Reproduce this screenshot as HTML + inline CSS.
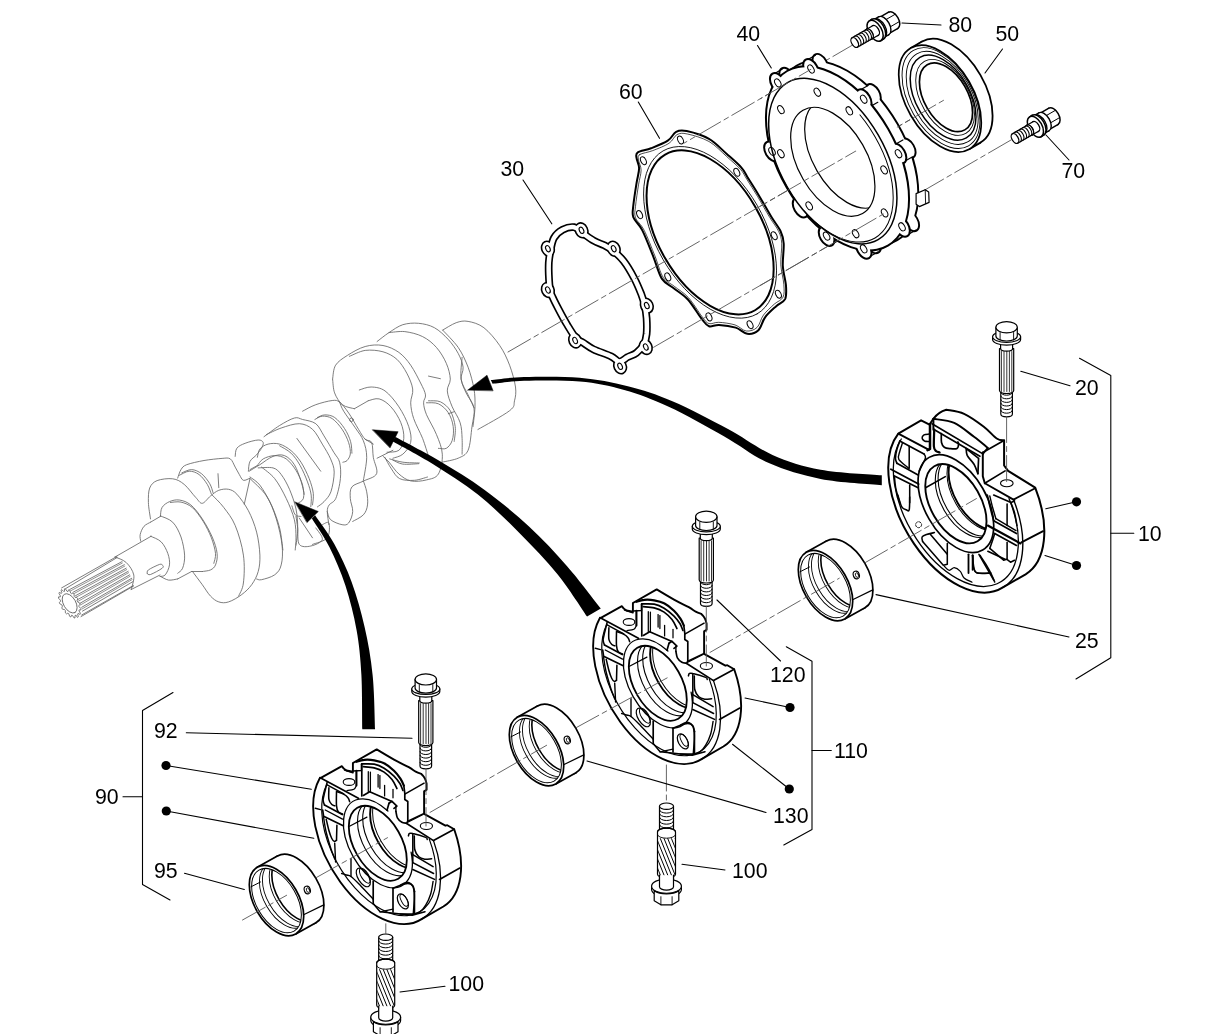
<!DOCTYPE html>
<html><head><meta charset="utf-8"><title>Crankshaft bearing parts diagram</title>
<style>
html,body{margin:0;padding:0;background:#fff;}
body{width:1214px;height:1034px;overflow:hidden;font-family:"Liberation Sans",sans-serif;}
svg{display:block;filter:grayscale(1);}
svg text{font-family:"Liberation Sans",sans-serif;font-size:21.3px;fill:#000;}
</style></head><body>
<svg width="1214" height="1034" viewBox="0 0 1214 1034" stroke-linecap="round" stroke-linejoin="round">
<rect width="1214" height="1034" fill="#fff"/>
<path d="M61.6,587.9 L116.6,556.6" fill="none" stroke="#666" stroke-width="0.85" />
<path d="M81.0,616.6 L133.6,586.0" fill="none" stroke="#666" stroke-width="0.85" />
<path d="M65.5,588.7 L117.3,557.4" fill="none" stroke="#666" stroke-width="0.85" />
<path d="M69.7,589.5 L122.0,561.6" fill="none" stroke="#666" stroke-width="0.85" />
<path d="M70.4,591.0 L122.4,563.0" fill="none" stroke="#666" stroke-width="0.7" />
<path d="M73.2,592.2 L124.3,564.7" fill="none" stroke="#666" stroke-width="0.85" />
<path d="M73.8,593.7 L124.8,566.1" fill="none" stroke="#666" stroke-width="0.7" />
<path d="M75.5,595.7 L126.2,568.2" fill="none" stroke="#666" stroke-width="0.85" />
<path d="M76.2,597.2 L126.7,569.6" fill="none" stroke="#666" stroke-width="0.7" />
<path d="M77.9,599.5 L128.2,571.3" fill="none" stroke="#666" stroke-width="0.85" />
<path d="M78.5,601.1 L128.6,572.7" fill="none" stroke="#666" stroke-width="0.7" />
<path d="M79.8,603.4 L129.7,574.8" fill="none" stroke="#666" stroke-width="0.85" />
<path d="M80.4,605.0 L130.2,576.2" fill="none" stroke="#666" stroke-width="0.7" />
<path d="M81.7,607.3 L131.7,578.3" fill="none" stroke="#666" stroke-width="0.85" />
<path d="M82.4,608.8 L132.1,579.6" fill="none" stroke="#666" stroke-width="0.7" />
<path d="M82.5,611.1 L132.8,581.7" fill="none" stroke="#666" stroke-width="0.85" />
<path d="M81.7,615.0 L133.2,585.6" fill="none" stroke="#666" stroke-width="0.85" />
<path d="M77.7,617.2 L78.4,616.7 L77.6,614.0 L78.1,613.4 L80.1,614.4 L80.5,613.4 L79.0,610.9 L79.2,609.9 L81.0,609.9 L80.9,608.6 L79.0,606.6 L78.8,605.5 L80.1,604.4 L79.7,603.0 L77.6,601.9 L77.1,600.7 L77.7,598.8 L76.9,597.5 L75.0,597.3 L74.2,596.3 L74.0,593.9 L73.0,592.9 L71.6,593.7 L70.7,593.1 L69.7,590.4 L68.6,589.8 L67.9,591.6 L67.0,591.3 L65.4,588.9 L64.4,588.9 L64.5,591.3 L63.7,591.5 L61.8,589.6 L61.0,590.2 L61.9,592.8 L61.4,593.4 L59.3,592.4 L59.0,593.4 L60.4,595.9 L60.3,596.9 L58.5,596.9 L58.5,598.2 L60.4,600.2 L60.7,601.3 L59.3,602.4 L59.8,603.8 L61.9,604.9 L62.4,606.1 L61.8,608.0 L62.6,609.3 L64.5,609.5 L65.3,610.5 L65.4,612.9 L66.5,613.9 L67.9,613.1 L68.8,613.8 L69.7,616.4 L70.8,617.0 L71.6,615.2 L72.5,615.5 L74.0,617.9 L75.0,617.9 L75.0,615.5 L75.7,615.3 Z" fill="#fff" stroke="#666" stroke-width="0.85" />
<ellipse cx="69.7" cy="603.4" rx="10.6" ry="6.1" transform="rotate(60 69.7 603.4)" fill="none" stroke="#666" stroke-width="0.85" />
<path d="M115.0,557.0 C116.9,557.9 123.1,559.5 126.2,562.5 C129.4,565.5 132.9,570.5 133.8,575.0 C134.6,579.5 131.7,587.1 131.2,589.5" fill="none" stroke="#666" stroke-width="0.85" />
<path d="M115.0,557.0 L151.2,536.2" fill="none" stroke="#666" stroke-width="0.85" />
<path d="M131.2,589.5 L160.0,575.0" fill="none" stroke="#666" stroke-width="0.85" />
<path d="M150.5,536.2 C152.3,537.1 158.4,539.0 161.2,541.9 C164.1,544.8 166.4,549.6 167.8,553.4 C169.2,557.3 169.9,561.4 169.5,564.9 C169.0,568.5 166.9,572.9 165.3,574.8 C163.8,576.7 160.8,576.2 159.9,576.4" fill="none" stroke="#666" stroke-width="0.85" />
<path d="M147.3,573.5 C147.5,572.9 146.4,571.4 148.4,569.9 C150.5,568.4 157.2,565.2 159.6,564.4 C161.9,563.7 162.1,564.6 162.5,565.3 C163.0,565.9 164.2,566.7 162.2,568.2 C160.2,569.8 153.0,573.6 150.5,574.5 C148.1,575.3 147.8,573.7 147.3,573.5" fill="none" stroke="#666" stroke-width="0.85" />
<path d="M150.5,522.2 C149.5,522.9 145.7,524.3 144.0,526.3 C142.2,528.4 140.7,532.1 140.2,534.5 C139.6,537.0 140.6,540.0 140.7,541.1" fill="none" stroke="#666" stroke-width="0.85" />
<path d="M160.4,576.4 C161.8,577.0 165.8,579.7 168.6,580.1 C171.5,580.5 176.2,579.1 177.7,578.9" fill="none" stroke="#666" stroke-width="0.85" />
<path d="M150.5,522.2 L160.4,516.4" fill="none" stroke="#666" stroke-width="0.85" />
<path d="M177.7,578.9 L191.6,571.5" fill="none" stroke="#666" stroke-width="0.85" />
<path d="M160.4,515.9 C162.5,517.0 169.3,518.7 172.7,522.2 C176.2,525.7 179.0,531.5 181.0,537.0 C182.9,542.5 184.3,549.9 184.6,555.1 C184.9,560.3 183.8,565.2 182.6,568.2 C181.5,571.2 178.5,572.3 177.7,573.2" fill="none" stroke="#666" stroke-width="0.85" />
<path d="M160.4,516.4 C160.7,514.9 160.5,509.9 162.1,507.4 C163.6,504.9 166.6,502.9 169.5,501.6 C172.3,500.4 175.8,499.5 179.3,500.0 C182.9,500.6 187.0,501.8 190.8,504.9 C194.7,508.1 198.8,513.6 202.3,518.9 C205.9,524.3 209.7,531.2 212.2,537.0 C214.7,542.7 216.6,548.8 217.1,553.4 C217.7,558.1 216.6,562.2 215.5,564.9 C214.4,567.7 212.7,568.8 210.6,569.9 C208.4,571.0 203.7,571.2 202.3,571.5" fill="none" stroke="#666" stroke-width="0.85" />
<path d="M170.3,502.5 C172.1,502.4 177.3,501.3 181.0,502.1 C184.7,503.0 188.8,504.5 192.5,507.7 C196.2,510.9 200.0,516.4 203.2,521.4 C206.3,526.4 209.3,532.5 211.4,537.8 C213.4,543.2 215.1,549.2 215.5,553.4 C215.9,557.7 214.1,561.7 213.8,563.3" fill="none" stroke="#666" stroke-width="0.85" />
<path d="M191.6,571.5 L202.3,571.5" fill="none" stroke="#666" stroke-width="0.85" />
<path d="M150.5,518.9 C150.2,516.2 148.5,507.6 148.4,502.5 C148.3,497.3 148.3,491.6 149.7,488.0 C151.2,484.4 153.3,482.1 157.1,480.6 C161.0,479.1 168.2,478.2 172.7,478.8 C177.3,479.4 180.4,481.3 184.2,484.4 C188.1,487.5 192.7,494.4 195.8,497.5 C198.8,500.7 199.9,503.6 202.3,503.3 C204.8,503.0 207.8,498.1 210.6,495.9 C213.3,493.7 215.8,491.4 218.8,490.3 C221.8,489.2 225.6,488.7 228.6,489.3 C231.6,490.0 233.6,490.7 236.9,494.2 C240.1,497.8 245.1,504.4 248.4,510.7 C251.7,517.0 254.7,524.7 256.6,532.1 C258.5,539.5 259.6,548.5 259.9,555.1 C260.1,561.7 259.6,566.6 258.2,571.5 C256.9,576.4 254.4,580.8 251.7,584.7 C248.9,588.5 245.6,591.7 241.8,594.5 C238.0,597.4 232.5,600.7 228.6,601.9 C224.8,603.2 221.8,602.9 218.8,601.9 C215.8,601.0 213.3,599.0 210.6,596.2 C207.8,593.3 205.3,588.8 202.3,584.7 C199.3,580.6 194.1,573.7 192.5,571.5" fill="none" stroke="#666" stroke-width="0.85" />
<path d="M212.2,495.1 C214.1,497.1 219.9,502.3 223.7,507.4 C227.5,512.5 231.9,517.5 235.2,525.5 C238.5,533.4 242.1,545.5 243.4,555.1 C244.8,564.7 244.3,576.2 243.4,583.0 C242.6,589.9 239.3,594.0 238.5,596.2" fill="none" stroke="#666" stroke-width="0.85" />
<path d="M177.7,478.1 C178.2,476.7 179.5,471.8 181.0,469.6 C182.5,467.3 182.9,466.2 186.7,464.7 C190.6,463.2 198.1,461.6 204.0,460.5 C209.9,459.5 217.7,458.7 222.1,458.4 C226.4,458.1 228.1,457.5 230.3,458.9 C232.5,460.4 233.7,464.5 235.2,467.1 C236.7,469.7 238.0,472.3 239.3,474.5 C240.7,476.7 241.6,479.7 243.4,480.3 C245.2,480.9 248.9,478.5 250.0,478.1" fill="none" stroke="#666" stroke-width="0.85" />
<path d="M179.3,475.3 C181.0,474.7 185.9,471.4 189.2,471.2 C192.5,471.1 196.0,472.3 199.0,474.5 C202.1,476.7 205.2,481.1 207.3,484.4 C209.3,487.7 210.7,492.6 211.4,494.2" fill="none" stroke="#666" stroke-width="0.85" />
<path d="M181.8,472.9 C183.4,472.3 188.4,469.5 191.6,469.6 C194.9,469.7 198.5,471.4 201.5,473.7 C204.5,476.0 207.8,480.4 209.7,483.6 C211.6,486.7 212.5,491.1 213.0,492.6" fill="none" stroke="#666" stroke-width="0.85" />
<path d="M218.0,473.7 L218.8,487.7" fill="none" stroke="#666" stroke-width="0.85" />
<path d="M250.0,478.6 L244.3,504.1" fill="none" stroke="#666" stroke-width="0.85" />
<path d="M250.0,478.6 C252.7,481.5 262.1,489.2 266.4,495.9 C270.8,502.6 273.7,510.7 276.3,518.9 C278.9,527.1 281.2,537.5 282.1,545.2 C282.9,552.9 282.5,560.0 281.2,564.9 C280.0,569.9 278.0,572.3 274.7,574.8 C271.4,577.3 264.5,579.0 261.5,579.7 C258.5,580.4 257.4,579.0 256.6,578.9" fill="none" stroke="#666" stroke-width="0.85" />
<path d="M235.2,456.4 C235.5,455.1 235.2,450.4 236.9,448.2 C238.5,446.0 241.5,444.7 245.1,443.3 C248.6,441.9 255.2,440.1 258.2,440.0 C261.2,439.9 262.6,441.1 263.2,442.5 C263.7,443.8 262.6,446.2 261.5,448.2 C260.4,450.3 258.5,452.6 256.6,454.8 C254.7,457.0 251.4,458.6 250.0,461.4 C248.6,464.1 248.6,469.6 248.4,471.2" fill="none" stroke="#666" stroke-width="0.85" />
<path d="M249.2,471.2 C251.0,470.1 255.9,467.1 259.9,464.7 C263.8,462.2 268.9,457.9 273.0,456.4 C277.1,454.9 281.0,454.2 284.5,455.6 C288.1,457.0 291.7,460.4 294.4,464.7 C297.1,468.9 299.3,476.2 301.0,481.1 C302.6,486.0 303.7,492.1 304.3,494.2" fill="none" stroke="#666" stroke-width="0.85" />
<path d="M258.2,467.9 C260.7,467.9 269.2,466.9 273.0,467.9 C276.9,469.0 278.5,471.0 281.2,474.5 C284.0,478.1 287.0,483.6 289.5,489.3 C291.9,495.1 294.7,502.5 296.0,509.0 C297.4,515.6 297.7,522.7 297.7,528.8 C297.7,534.8 296.3,542.5 296.0,545.2" fill="none" stroke="#666" stroke-width="0.85" />
<path d="M264.0,436.7 C266.6,434.9 274.5,428.7 279.6,425.5 C284.7,422.4 290.6,419.0 294.4,418.0 C298.2,417.0 299.0,418.5 302.6,419.5 C306.2,420.4 312.2,421.0 315.8,423.7 C319.3,426.5 321.0,431.1 324.0,435.9 C327.0,440.7 331.2,447.9 333.8,452.3 C336.4,456.7 338.5,457.8 339.6,462.2 C340.7,466.6 341.0,472.6 340.4,478.6 C339.8,484.7 337.7,494.0 335.8,498.4 C333.9,502.7 330.7,502.7 329.2,504.9 C327.8,507.1 327.3,508.2 327.3,511.5 C327.2,514.8 328.6,522.5 328.9,524.7" fill="none" stroke="#666" stroke-width="0.85" />
<path d="M266.4,434.6 C268.9,433.5 275.8,429.8 281.2,428.0 C286.7,426.2 294.1,423.5 299.3,423.7 C304.5,423.9 308.6,425.9 312.5,429.3 C316.3,432.7 319.3,439.2 322.3,444.1 C325.3,449.0 328.6,454.3 330.6,458.9 C332.5,463.6 334.1,466.6 334.2,472.1 C334.2,477.5 332.6,486.9 330.9,491.8 C329.2,496.7 326.2,499.1 324.0,501.7 C321.7,504.2 318.5,506.0 317.4,506.9" fill="none" stroke="#666" stroke-width="0.85" />
<path d="M257.4,457.3 C257.8,455.9 258.1,451.2 259.9,449.0 C261.6,446.9 264.8,444.9 268.1,444.1 C271.4,443.3 275.8,443.0 279.6,444.1 C283.4,445.2 287.5,447.7 291.1,450.7 C294.7,453.7 297.9,457.5 301.0,462.2 C304.0,466.9 307.1,473.4 309.2,478.6 C311.2,483.8 312.7,489.0 313.3,493.4 C313.8,497.8 312.6,503.0 312.5,504.9" fill="none" stroke="#666" stroke-width="0.85" />
<path d="M279.6,445.8 C281.5,447.0 287.7,449.9 291.1,453.2 C294.5,456.4 297.4,460.7 300.1,465.5 C302.9,470.3 305.7,477.0 307.5,481.9 C309.4,486.9 310.6,491.0 311.2,495.1 C311.7,499.2 310.9,504.7 310.8,506.6" fill="none" stroke="#666" stroke-width="0.85" />
<path d="M257.4,465.5 C258.4,464.4 260.3,460.6 263.2,458.9 C266.0,457.3 270.8,455.6 274.7,455.6 C278.5,455.6 282.6,456.4 286.2,458.9 C289.7,461.4 293.3,466.0 296.0,470.4 C298.8,474.8 301.4,480.6 302.6,485.2 C303.8,489.9 304.2,495.3 303.4,498.4 C302.6,501.4 298.6,502.5 297.7,503.3" fill="none" stroke="#666" stroke-width="0.85" />
<path d="M250.0,469.6 L257.4,465.5" fill="none" stroke="#666" stroke-width="0.85" />
<path d="M296.9,438.4 L320.7,471.2" fill="none" stroke="#666" stroke-width="0.85" />
<path d="M250.0,477.0 C251.6,478.4 256.3,480.6 259.9,485.2 C263.4,489.9 268.1,497.8 271.4,504.9 C274.7,512.1 277.7,520.4 279.6,528.0 C281.5,535.5 282.3,546.3 282.9,550.0" fill="none" stroke="#666" stroke-width="0.85" />
<path d="M261.5,467.1 C263.7,469.0 270.5,473.4 274.7,478.6 C278.8,483.8 282.9,491.5 286.2,498.4 C289.5,505.2 292.7,513.2 294.4,519.7 C296.0,526.3 295.9,532.8 296.0,537.8 C296.2,542.9 295.3,548.0 295.2,550.0" fill="none" stroke="#666" stroke-width="0.85" />
<path d="M291.9,505.8 C292.5,507.3 293.7,513.0 295.2,514.8 C296.7,516.6 300.0,516.2 301.0,516.4" fill="none" stroke="#666" stroke-width="0.85" />
<path d="M296.0,516.4 C296.3,518.4 297.1,523.3 297.7,528.0 C298.2,532.6 297.1,541.4 299.3,544.4 C301.5,547.4 307.0,546.9 310.8,546.0 C314.7,545.2 321.5,542.5 322.3,539.5 C323.2,536.4 316.9,529.9 315.8,528.0" fill="none" stroke="#666" stroke-width="0.85" />
<path d="M299.3,518.1 L312.5,537.8" fill="none" stroke="#666" stroke-width="0.85" />
<path d="M322.3,524.7 C323.4,524.4 328.1,520.8 328.9,523.0 C329.7,525.2 330.0,534.3 327.3,537.8 C324.5,541.4 314.9,543.3 312.5,544.4" fill="none" stroke="#666" stroke-width="0.85" />
<path d="M314.9,419.5 C316.2,418.9 319.5,416.3 322.3,416.2 C325.2,416.0 328.9,416.4 332.2,418.6 C335.5,420.8 339.3,425.3 342.1,429.3 C344.8,433.3 347.3,438.4 348.6,442.5 C350.0,446.6 350.6,451.0 350.3,454.0 C350.0,457.0 348.2,459.2 347.0,460.6 C345.8,461.9 343.6,461.9 342.9,462.2" fill="none" stroke="#666" stroke-width="0.85" />
<path d="M317.4,417.5 C318.6,417.0 321.9,414.9 324.8,414.9 C327.7,414.9 331.4,415.2 334.7,417.5 C338.0,419.8 341.9,424.5 344.5,428.5 C347.2,432.5 349.4,437.5 350.6,441.6 C351.8,445.8 351.7,451.2 351.9,453.2" fill="none" stroke="#666" stroke-width="0.85" />
<path d="M302.6,411.2 C304.8,410.1 310.8,406.4 315.8,404.7 C320.7,402.9 328.2,401.0 332.2,400.5 C336.2,400.1 336.9,400.1 339.6,402.2 C342.3,404.2 345.5,408.4 348.6,412.9 C351.8,417.4 355.8,424.9 358.5,429.3 C361.2,433.7 362.9,437.0 365.1,439.2 C367.3,441.4 370.3,439.5 371.7,442.5 C373.0,445.5 372.5,452.1 373.3,457.3 C374.1,462.5 378.2,469.7 376.6,473.7 C374.9,477.7 367.5,478.9 363.4,481.1 C359.3,483.3 354.1,484.0 351.9,486.9 C349.7,489.7 350.1,494.3 350.3,498.4 C350.4,502.5 353.0,507.4 352.7,511.5 C352.5,515.6 350.4,520.8 348.6,523.0 C346.9,525.2 345.1,525.2 342.1,524.7 C339.0,524.1 333.0,521.9 330.6,519.7 C328.1,517.5 327.8,512.9 327.3,511.5" fill="none" stroke="#666" stroke-width="0.85" />
<path d="M339.6,402.2 C340.3,403.7 341.1,407.0 343.7,411.2 C346.3,415.5 351.9,422.7 355.2,427.7 C358.5,432.6 361.5,435.9 363.4,440.8 C365.3,445.8 366.7,450.7 366.7,457.3 C366.7,463.8 364.0,476.4 363.4,480.3" fill="none" stroke="#666" stroke-width="0.85" />
<path d="M365.1,439.2 L373.3,444.1" fill="none" stroke="#666" stroke-width="0.85" />
<path d="M363.4,481.1 C364.0,482.9 366.0,487.8 366.7,491.8 C367.4,495.8 368.1,501.1 367.5,504.9 C367.0,508.8 365.9,512.1 363.4,514.8 C361.0,517.5 354.5,520.3 352.7,521.4" fill="none" stroke="#666" stroke-width="0.85" />
<circle cx="351.4" cy="419.8" r="1.8" fill="none" stroke="#666" stroke-width="0.85"/>
<path d="M384.8,457.3 C385.9,459.2 388.9,465.2 391.4,468.8 C393.8,472.3 395.8,476.7 399.6,478.6 C403.4,480.6 409.7,480.6 414.4,480.3 C419.1,480.0 425.4,477.5 427.5,477.0" fill="none" stroke="#666" stroke-width="0.85" />
<path d="M389.7,458.9 C391.9,459.5 398.0,461.5 402.9,462.2 C407.8,462.9 416.6,462.9 419.3,463.0" fill="none" stroke="#666" stroke-width="0.85" />
<path d="M442.7,330.1 C445.0,328.8 452.0,324.2 456.2,322.7 C460.4,321.3 463.4,320.5 468.1,321.4 C472.7,322.2 478.6,323.7 483.9,327.7 C489.1,331.7 495.4,339.2 499.7,345.5 C504.0,351.7 506.9,358.3 509.6,365.2 C512.2,372.2 514.7,381.1 515.5,387.0 C516.3,392.9 515.5,396.9 514.5,400.8 C513.5,404.8 515.7,405.9 509.6,410.7 C503.5,415.5 483.2,426.4 477.9,429.5" fill="none" stroke="#666" stroke-width="0.85" />
<path d="M442.7,330.1 C445.3,333.0 453.9,341.3 458.2,347.4 C462.4,353.6 465.4,360.3 468.1,367.2 C470.7,374.1 472.8,382.4 474.0,389.0 C475.1,395.6 475.1,400.5 475.0,406.8 C474.8,413.0 473.3,423.2 473.0,426.5" fill="none" stroke="#666" stroke-width="0.85" />
<path d="M462.1,357.3 C462.0,361.0 460.1,372.8 461.1,379.1 C462.1,385.3 465.9,390.1 468.1,394.9 C470.2,399.7 473.0,405.6 474.0,407.8" fill="none" stroke="#666" stroke-width="0.85" />
<path d="M332.6,379.1 C333.1,376.8 333.1,369.2 335.6,365.2 C338.1,361.3 342.5,358.5 347.4,355.4 C352.4,352.2 359.3,348.1 365.2,346.5 C371.2,344.8 377.4,344.5 383.0,345.5 C388.6,346.5 394.2,349.1 398.9,352.4 C403.5,355.7 407.1,360.1 410.7,365.2 C414.3,370.4 418.1,378.1 420.6,383.0 C423.1,388.0 425.0,391.6 425.5,394.9 C426.0,398.2 423.4,399.5 423.6,402.8 C423.7,406.1 424.4,409.4 426.5,414.7 C428.7,419.9 433.8,427.9 436.4,434.4 C439.1,441.0 442.0,447.6 442.3,454.2 C442.7,460.8 441.0,469.7 438.4,474.0 C435.8,478.3 431.1,478.8 426.5,479.9 C421.9,481.1 415.3,481.9 410.7,480.9 C406.1,479.9 402.5,477.1 398.9,474.0 C395.2,470.9 391.6,465.1 389.0,462.1 C386.3,459.2 384.0,457.2 383.0,456.2" fill="none" stroke="#666" stroke-width="0.85" />
<path d="M332.6,379.1 C333.0,381.4 333.0,388.6 334.6,392.9 C336.2,397.2 339.2,402.1 342.5,404.8 C345.8,407.4 352.4,408.1 354.4,408.7" fill="none" stroke="#666" stroke-width="0.85" />
<path d="M349.4,356.3 C352.1,355.4 359.6,351.2 365.2,350.4 C370.8,349.7 377.8,350.3 383.0,351.8 C388.3,353.3 392.9,355.8 396.9,359.3 C400.8,362.9 404.1,368.2 406.8,373.2 C409.4,378.1 412.0,384.0 412.7,389.0 C413.4,393.9 410.6,397.9 410.7,402.8 C410.9,407.8 411.7,412.7 413.7,418.6 C415.7,424.6 420.1,432.1 422.6,438.4 C425.0,444.7 427.5,453.2 428.5,456.2" fill="none" stroke="#666" stroke-width="0.85" />
<path d="M377.1,341.5 C379.1,340.0 384.7,335.4 389.0,332.6 C393.3,329.8 397.9,326.3 402.8,324.7 C407.8,323.2 413.4,322.8 418.6,323.3 C423.9,323.8 429.5,325.0 434.4,327.7 C439.4,330.4 444.3,335.3 448.3,339.5 C452.2,343.8 455.7,348.8 458.2,353.4 C460.6,358.0 462.6,362.9 463.1,367.2 C463.6,371.5 460.6,374.8 461.1,379.1 C461.6,383.4 463.9,388.1 466.1,392.9 C468.2,397.7 473.0,402.1 474.0,407.8 C475.0,413.4 473.0,419.4 472.0,426.5 C471.0,433.6 470.4,445.0 468.1,450.3 C465.7,455.5 462.4,456.2 458.2,458.2 C453.9,460.1 445.0,461.5 442.3,462.1" fill="none" stroke="#666" stroke-width="0.85" />
<path d="M389.0,332.6 C391.6,332.5 399.2,331.0 404.8,331.6 C410.4,332.3 417.3,333.9 422.6,336.6 C427.9,339.2 432.5,343.0 436.4,347.4 C440.4,351.9 444.0,358.0 446.3,363.3 C448.6,368.5 450.1,374.5 450.3,379.1 C450.4,383.7 447.0,386.3 447.3,390.9 C447.6,395.6 450.1,401.5 452.2,406.8 C454.4,412.0 458.5,417.3 460.1,422.6 C461.8,427.9 461.8,433.1 462.1,438.4 C462.4,443.7 462.1,451.6 462.1,454.2" fill="none" stroke="#666" stroke-width="0.85" />
<path d="M426.5,402.8 C428.5,403.0 434.8,402.1 438.4,403.8 C442.0,405.4 445.8,408.9 448.3,412.7 C450.8,416.5 452.6,421.9 453.2,426.5 C453.9,431.1 453.4,436.7 452.2,440.4 C451.1,444.0 448.6,447.0 446.3,448.3 C444.0,449.6 439.7,448.3 438.4,448.3" fill="none" stroke="#666" stroke-width="0.85" />
<path d="M428.5,400.8 C430.5,401.0 436.7,400.2 440.4,401.8 C444.0,403.5 447.8,406.6 450.3,410.7 C452.7,414.8 454.5,421.4 455.2,426.5 C455.9,431.6 454.4,438.9 454.2,441.4" fill="none" stroke="#666" stroke-width="0.85" />
<path d="M359.3,390.0 C361.3,389.5 366.9,386.8 371.2,387.0 C375.5,387.2 380.4,387.6 385.0,390.9 C389.6,394.2 394.9,400.8 398.9,406.8 C402.8,412.7 406.8,420.6 408.7,426.5 C410.7,432.5 411.7,437.7 410.7,442.3 C409.7,447.0 405.8,451.6 402.8,454.2 C399.8,456.8 394.6,457.5 392.9,458.2" fill="none" stroke="#666" stroke-width="0.85" />
<path d="M368.2,400.8 C370.0,400.5 375.3,397.9 379.1,398.9 C382.9,399.8 387.3,402.8 390.9,406.8 C394.6,410.7 398.7,417.3 400.8,422.6 C403.0,427.9 404.1,433.8 403.8,438.4 C403.5,443.0 401.7,448.0 398.9,450.3 C396.1,452.6 389.0,451.9 387.0,452.2" fill="none" stroke="#666" stroke-width="0.85" />
<path d="M354.4,408.7 L368.2,400.8" fill="none" stroke="#666" stroke-width="0.85" />
<path d="M377.1,458.2 L392.9,450.3" fill="none" stroke="#666" stroke-width="0.85" />
<path d="M428.5,376.1 L440.4,378.7" fill="none" stroke="#666" stroke-width="0.85" />
<path d="M448.3,413.7 L454.2,411.7" fill="none" stroke="#666" stroke-width="0.85" />
<path d="M392.9,460.1 C394.6,460.8 398.5,463.5 402.8,464.1 C407.1,464.7 416.0,463.8 418.6,463.7" fill="none" stroke="#666" stroke-width="0.85" />
<path d="M550.4,251.1 C551.2,247.0 551.9,241.6 553.9,238.0 C555.9,234.5 559.2,231.6 562.6,229.8 C566.0,228.0 570.8,226.7 574.1,227.2 C577.4,227.7 579.1,230.5 582.3,232.8 C585.6,235.0 590.0,238.5 593.7,240.6 C597.3,242.7 601.0,243.7 604.2,245.3 C607.4,247.0 609.6,248.0 612.9,250.6 C616.1,253.2 620.2,256.5 623.7,261.1 C627.3,265.7 631.3,272.7 634.2,278.2 C637.1,283.6 639.4,289.4 641.2,293.9 C642.9,298.4 643.7,301.1 644.6,305.2 C645.6,309.3 646.2,313.5 646.6,318.3 C646.9,323.1 647.0,329.7 646.6,334.0 C646.1,338.3 645.6,341.0 644.0,344.1 C642.3,347.3 639.2,350.7 636.4,352.9 C633.7,355.0 630.5,355.6 627.7,357.1 C624.9,358.5 622.3,361.7 619.5,361.6 C616.8,361.5 615.4,358.4 611.1,356.4 C606.8,354.3 598.3,351.6 593.7,349.4 C589.0,347.1 586.1,344.6 583.2,342.7 C580.3,340.9 578.8,341.3 576.2,338.4 C573.6,335.5 570.4,330.1 567.5,325.3 C564.6,320.5 561.2,314.2 558.8,309.6 C556.3,304.9 554.1,300.6 552.7,297.4 C551.2,294.2 550.7,294.2 550.1,290.4 C549.4,286.6 549.0,279.3 548.8,274.7 C548.6,270.0 548.6,266.4 548.8,262.5 C549.1,258.5 549.6,255.2 550.4,251.1 Z" fill="none" stroke="#000" stroke-width="7.8" />
<ellipse cx="581.5" cy="230.3" rx="6.9" ry="8.4" transform="rotate(-25 581.5 230.3)" fill="#000"/>
<ellipse cx="613.7" cy="248.7" rx="6.9" ry="8.4" transform="rotate(-25 613.7 248.7)" fill="#000"/>
<ellipse cx="646.8" cy="305.6" rx="6.9" ry="8.4" transform="rotate(-25 646.8 305.6)" fill="#000"/>
<ellipse cx="645.8" cy="347.0" rx="6.9" ry="8.4" transform="rotate(-25 645.8 347.0)" fill="#000"/>
<ellipse cx="620.1" cy="366.3" rx="6.9" ry="8.4" transform="rotate(-25 620.1 366.3)" fill="#000"/>
<ellipse cx="575.1" cy="340.5" rx="6.9" ry="8.4" transform="rotate(-25 575.1 340.5)" fill="#000"/>
<ellipse cx="547.9" cy="290.0" rx="6.9" ry="8.4" transform="rotate(-25 547.9 290.0)" fill="#000"/>
<ellipse cx="547.9" cy="248.7" rx="6.9" ry="8.4" transform="rotate(-25 547.9 248.7)" fill="#000"/>
<path d="M550.4,251.1 C551.2,247.0 551.9,241.6 553.9,238.0 C555.9,234.5 559.2,231.6 562.6,229.8 C566.0,228.0 570.8,226.7 574.1,227.2 C577.4,227.7 579.1,230.5 582.3,232.8 C585.6,235.0 590.0,238.5 593.7,240.6 C597.3,242.7 601.0,243.7 604.2,245.3 C607.4,247.0 609.6,248.0 612.9,250.6 C616.1,253.2 620.2,256.5 623.7,261.1 C627.3,265.7 631.3,272.7 634.2,278.2 C637.1,283.6 639.4,289.4 641.2,293.9 C642.9,298.4 643.7,301.1 644.6,305.2 C645.6,309.3 646.2,313.5 646.6,318.3 C646.9,323.1 647.0,329.7 646.6,334.0 C646.1,338.3 645.6,341.0 644.0,344.1 C642.3,347.3 639.2,350.7 636.4,352.9 C633.7,355.0 630.5,355.6 627.7,357.1 C624.9,358.5 622.3,361.7 619.5,361.6 C616.8,361.5 615.4,358.4 611.1,356.4 C606.8,354.3 598.3,351.6 593.7,349.4 C589.0,347.1 586.1,344.6 583.2,342.7 C580.3,340.9 578.8,341.3 576.2,338.4 C573.6,335.5 570.4,330.1 567.5,325.3 C564.6,320.5 561.2,314.2 558.8,309.6 C556.3,304.9 554.1,300.6 552.7,297.4 C551.2,294.2 550.7,294.2 550.1,290.4 C549.4,286.6 549.0,279.3 548.8,274.7 C548.6,270.0 548.6,266.4 548.8,262.5 C549.1,258.5 549.6,255.2 550.4,251.1 Z" fill="none" stroke="#fff" stroke-width="4.5" />
<ellipse cx="581.5" cy="230.3" rx="5.3" ry="6.8" transform="rotate(-25 581.5 230.3)" fill="#fff"/>
<ellipse cx="613.7" cy="248.7" rx="5.3" ry="6.8" transform="rotate(-25 613.7 248.7)" fill="#fff"/>
<ellipse cx="646.8" cy="305.6" rx="5.3" ry="6.8" transform="rotate(-25 646.8 305.6)" fill="#fff"/>
<ellipse cx="645.8" cy="347.0" rx="5.3" ry="6.8" transform="rotate(-25 645.8 347.0)" fill="#fff"/>
<ellipse cx="620.1" cy="366.3" rx="5.3" ry="6.8" transform="rotate(-25 620.1 366.3)" fill="#fff"/>
<ellipse cx="575.1" cy="340.5" rx="5.3" ry="6.8" transform="rotate(-25 575.1 340.5)" fill="#fff"/>
<ellipse cx="547.9" cy="290.0" rx="5.3" ry="6.8" transform="rotate(-25 547.9 290.0)" fill="#fff"/>
<ellipse cx="547.9" cy="248.7" rx="5.3" ry="6.8" transform="rotate(-25 547.9 248.7)" fill="#fff"/>
<ellipse cx="581.5" cy="230.3" rx="2.1" ry="3.3" transform="rotate(-25 581.5 230.3)" fill="#fff" stroke="#000" stroke-width="1.1"/>
<ellipse cx="613.7" cy="248.7" rx="2.1" ry="3.3" transform="rotate(-25 613.7 248.7)" fill="#fff" stroke="#000" stroke-width="1.1"/>
<ellipse cx="646.8" cy="305.6" rx="2.1" ry="3.3" transform="rotate(-25 646.8 305.6)" fill="#fff" stroke="#000" stroke-width="1.1"/>
<ellipse cx="645.8" cy="347.0" rx="2.1" ry="3.3" transform="rotate(-25 645.8 347.0)" fill="#fff" stroke="#000" stroke-width="1.1"/>
<ellipse cx="620.1" cy="366.3" rx="2.1" ry="3.3" transform="rotate(-25 620.1 366.3)" fill="#fff" stroke="#000" stroke-width="1.1"/>
<ellipse cx="575.1" cy="340.5" rx="2.1" ry="3.3" transform="rotate(-25 575.1 340.5)" fill="#fff" stroke="#000" stroke-width="1.1"/>
<ellipse cx="547.9" cy="290.0" rx="2.1" ry="3.3" transform="rotate(-25 547.9 290.0)" fill="#fff" stroke="#000" stroke-width="1.1"/>
<ellipse cx="547.9" cy="248.7" rx="2.1" ry="3.3" transform="rotate(-25 547.9 248.7)" fill="#fff" stroke="#000" stroke-width="1.1"/>
<path d="M637.8,152.3 C640.2,150.7 646.1,150.2 651.1,148.3 C656.2,146.3 663.7,143.4 667.8,140.7 C672.0,138.0 672.9,133.4 676.1,131.8 C679.2,130.2 681.3,129.9 686.7,131.1 C692.2,132.3 702.3,135.1 709.0,138.9 C715.7,142.7 721.4,149.3 726.8,154.0 C732.2,158.8 737.7,163.4 741.2,167.4 C744.8,171.4 745.0,173.1 747.9,177.9 C750.9,182.6 755.2,189.2 759.0,195.7 C762.9,202.1 767.7,210.9 771.3,216.8 C774.9,222.7 778.5,226.8 780.6,231.2 C782.7,235.7 783.4,237.7 783.7,243.5 C784.1,249.2 782.5,258.7 782.8,265.7 C783.2,272.8 785.6,280.2 786.0,285.8 C786.3,291.3 786.7,295.7 785.1,299.1 C783.4,302.5 779.5,303.2 776.2,306.2 C772.8,309.3 768.0,313.3 765.1,317.3 C762.1,321.3 761.3,327.5 758.4,330.2 C755.4,333.0 751.0,334.2 747.3,333.8 C743.5,333.4 740.4,329.1 735.7,327.6 C731.0,326.1 723.4,325.1 719.0,324.9 C714.5,324.7 711.8,327.2 709.0,326.2 C706.1,325.3 705.4,323.6 701.9,319.1 C698.3,314.7 692.6,304.7 687.9,299.5 C683.1,294.4 677.7,291.5 673.4,288.0 C669.1,284.5 665.2,283.8 661.8,278.6 C658.5,273.4 656.6,264.9 653.4,256.8 C650.1,248.7 645.6,236.7 642.2,230.1 C638.9,223.5 634.8,221.3 633.3,217.2 C631.9,213.2 632.8,211.3 633.3,205.7 C633.9,200.0 635.5,189.6 636.5,183.4 C637.4,177.2 639.1,172.6 639.1,168.3 C639.1,164.0 636.7,160.5 636.5,157.8 C636.2,155.2 635.4,153.9 637.8,152.3 Z" fill="#fff" stroke="#000" stroke-width="2.0" />
<ellipse cx="710.1" cy="232.4" rx="94.1" ry="54.3" transform="rotate(60 710.1 232.4)" fill="none" stroke="#000" stroke-width="0.8" />
<path d="M639.8,154.5 C642.2,153.0 647.9,152.5 652.8,150.6 C657.7,148.7 665.0,145.9 669.0,143.3 C673.1,140.6 674.0,136.2 677.0,134.6 C680.1,133.1 682.1,132.8 687.4,134.0 C692.7,135.1 702.5,137.8 709.0,141.5 C715.5,145.2 721.1,151.6 726.3,156.2 C731.5,160.9 736.9,165.4 740.4,169.2 C743.8,173.1 744.0,174.8 746.9,179.4 C749.7,184.0 753.9,190.4 757.7,196.7 C761.5,203.0 766.1,211.5 769.6,217.2 C773.1,223.0 776.6,227.0 778.6,231.3 C780.7,235.6 781.3,237.6 781.7,243.2 C782.0,248.8 780.5,257.9 780.8,264.8 C781.2,271.6 783.5,278.8 783.8,284.3 C784.2,289.7 784.6,293.9 783.0,297.2 C781.4,300.5 777.6,301.2 774.3,304.1 C771.1,307.1 766.4,311.1 763.5,315.0 C760.6,318.9 759.9,324.8 757.0,327.5 C754.1,330.2 749.9,331.4 746.2,331.0 C742.5,330.5 739.5,326.4 735.0,324.9 C730.4,323.5 723.1,322.5 718.7,322.3 C714.4,322.1 711.8,324.5 709.0,323.6 C706.2,322.7 705.5,321.0 702.1,316.7 C698.7,312.4 693.1,302.7 688.5,297.7 C683.9,292.6 678.6,289.8 674.4,286.4 C670.2,283.0 666.4,282.4 663.2,277.3 C659.9,272.3 658.1,264.0 655.0,256.1 C651.8,248.3 647.4,236.6 644.1,230.2 C640.9,223.8 636.9,221.6 635.5,217.7 C634.1,213.7 635.0,211.9 635.5,206.4 C636.0,200.9 637.6,190.8 638.5,184.8 C639.5,178.7 641.1,174.2 641.1,170.1 C641.1,165.9 638.7,162.5 638.5,159.9 C638.3,157.3 637.4,156.1 639.8,154.5 Z" fill="none" stroke="#000" stroke-width="0.7" />
<ellipse cx="710.1" cy="232.4" rx="89.9" ry="51.9" transform="rotate(60 710.1 232.4)" fill="#fff" stroke="#000" stroke-width="2.0" />
<ellipse cx="680.5" cy="140.0" rx="2.6" ry="4.2" transform="rotate(-25 680.5 140.0)" fill="#fff" stroke="#000" stroke-width="1.0"/>
<ellipse cx="736.8" cy="172.3" rx="2.6" ry="4.2" transform="rotate(-25 736.8 172.3)" fill="#fff" stroke="#000" stroke-width="1.0"/>
<ellipse cx="774.2" cy="235.7" rx="2.6" ry="4.2" transform="rotate(-25 774.2 235.7)" fill="#fff" stroke="#000" stroke-width="1.0"/>
<ellipse cx="778.4" cy="294.2" rx="2.6" ry="4.2" transform="rotate(-25 778.4 294.2)" fill="#fff" stroke="#000" stroke-width="1.0"/>
<ellipse cx="750.1" cy="324.7" rx="2.6" ry="4.2" transform="rotate(-25 750.1 324.7)" fill="#fff" stroke="#000" stroke-width="1.0"/>
<ellipse cx="709.0" cy="316.9" rx="2.6" ry="4.2" transform="rotate(-25 709.0 316.9)" fill="#fff" stroke="#000" stroke-width="1.0"/>
<ellipse cx="667.8" cy="276.9" rx="2.6" ry="4.2" transform="rotate(-25 667.8 276.9)" fill="#fff" stroke="#000" stroke-width="1.0"/>
<ellipse cx="639.6" cy="214.6" rx="2.6" ry="4.2" transform="rotate(-25 639.6 214.6)" fill="#fff" stroke="#000" stroke-width="1.0"/>
<ellipse cx="643.4" cy="160.7" rx="2.6" ry="4.2" transform="rotate(-25 643.4 160.7)" fill="#fff" stroke="#000" stroke-width="1.0"/>
<line x1="508.0" y1="352.0" x2="944.8" y2="99.6" stroke="#555" stroke-width="0.9" stroke-dasharray="26 4 5 4"/>
<line x1="855.4" y1="43.4" x2="684.3" y2="143.0" stroke="#555" stroke-width="0.9" stroke-dasharray="26 4 5 4"/>
<line x1="1011.0" y1="140.0" x2="653.6" y2="347.3" stroke="#555" stroke-width="0.9" stroke-dasharray="26 4 5 4"/>
<ellipse cx="846.8" cy="153.0" rx="99.8" ry="57.6" transform="rotate(60 846.8 153.0)" fill="none" stroke="#000" stroke-width="3.8" />
<ellipse cx="787.1" cy="77.6" rx="9.7" ry="5.6" transform="rotate(60 787.1 77.6)" fill="none" stroke="#000" stroke-width="3.8" />
<ellipse cx="820.3" cy="63.7" rx="9.7" ry="5.6" transform="rotate(60 820.3 63.7)" fill="none" stroke="#000" stroke-width="3.8" />
<ellipse cx="873.0" cy="93.8" rx="9.7" ry="5.6" transform="rotate(60 873.0 93.8)" fill="none" stroke="#000" stroke-width="3.8" />
<ellipse cx="907.8" cy="148.4" rx="9.7" ry="5.6" transform="rotate(60 907.8 148.4)" fill="none" stroke="#000" stroke-width="3.8" />
<ellipse cx="911.3" cy="221.4" rx="9.7" ry="5.6" transform="rotate(60 911.3 221.4)" fill="none" stroke="#000" stroke-width="3.8" />
<ellipse cx="873.0" cy="243.5" rx="9.7" ry="5.6" transform="rotate(60 873.0 243.5)" fill="none" stroke="#000" stroke-width="3.8" />
<ellipse cx="835.8" cy="230.7" rx="9.7" ry="5.6" transform="rotate(60 835.8 230.7)" fill="none" stroke="#000" stroke-width="3.8" />
<ellipse cx="781.3" cy="146.0" rx="9.7" ry="5.6" transform="rotate(60 781.3 146.0)" fill="none" stroke="#000" stroke-width="3.8" />
<ellipse cx="846.8" cy="153.0" rx="99.8" ry="57.6" transform="rotate(60 846.8 153.0)" fill="#fff" stroke="none" stroke-width="0" />
<ellipse cx="787.1" cy="77.6" rx="9.7" ry="5.6" transform="rotate(60 787.1 77.6)" fill="#fff" stroke="none" stroke-width="0" />
<ellipse cx="820.3" cy="63.7" rx="9.7" ry="5.6" transform="rotate(60 820.3 63.7)" fill="#fff" stroke="none" stroke-width="0" />
<ellipse cx="873.0" cy="93.8" rx="9.7" ry="5.6" transform="rotate(60 873.0 93.8)" fill="#fff" stroke="none" stroke-width="0" />
<ellipse cx="907.8" cy="148.4" rx="9.7" ry="5.6" transform="rotate(60 907.8 148.4)" fill="#fff" stroke="none" stroke-width="0" />
<ellipse cx="911.3" cy="221.4" rx="9.7" ry="5.6" transform="rotate(60 911.3 221.4)" fill="#fff" stroke="none" stroke-width="0" />
<ellipse cx="873.0" cy="243.5" rx="9.7" ry="5.6" transform="rotate(60 873.0 243.5)" fill="#fff" stroke="none" stroke-width="0" />
<ellipse cx="835.8" cy="230.7" rx="9.7" ry="5.6" transform="rotate(60 835.8 230.7)" fill="#fff" stroke="none" stroke-width="0" />
<ellipse cx="781.3" cy="146.0" rx="9.7" ry="5.6" transform="rotate(60 781.3 146.0)" fill="#fff" stroke="none" stroke-width="0" />
<line x1="782.7" y1="91.4" x2="792.0" y2="86.0" stroke="#000" stroke-width="1.2" />
<line x1="773.0" y1="74.5" x2="782.3" y2="69.1" stroke="#000" stroke-width="1.2" />
<line x1="815.9" y1="77.4" x2="825.2" y2="72.1" stroke="#000" stroke-width="1.2" />
<line x1="806.1" y1="60.6" x2="815.4" y2="55.2" stroke="#000" stroke-width="1.2" />
<line x1="868.6" y1="107.6" x2="877.8" y2="102.3" stroke="#000" stroke-width="1.2" />
<line x1="858.8" y1="90.7" x2="868.1" y2="85.4" stroke="#000" stroke-width="1.2" />
<line x1="903.4" y1="162.1" x2="912.6" y2="156.8" stroke="#000" stroke-width="1.2" />
<line x1="893.6" y1="145.3" x2="902.9" y2="139.9" stroke="#000" stroke-width="1.2" />
<line x1="906.8" y1="235.2" x2="916.1" y2="229.9" stroke="#000" stroke-width="1.2" />
<line x1="897.1" y1="218.3" x2="906.4" y2="213.0" stroke="#000" stroke-width="1.2" />
<line x1="868.6" y1="257.3" x2="877.8" y2="251.9" stroke="#000" stroke-width="1.2" />
<line x1="858.8" y1="240.4" x2="868.1" y2="235.0" stroke="#000" stroke-width="1.2" />
<line x1="831.4" y1="244.5" x2="840.7" y2="239.2" stroke="#000" stroke-width="1.2" />
<line x1="821.7" y1="227.6" x2="831.0" y2="222.3" stroke="#000" stroke-width="1.2" />
<line x1="776.9" y1="159.8" x2="786.2" y2="154.5" stroke="#000" stroke-width="1.2" />
<line x1="767.2" y1="142.9" x2="776.5" y2="137.6" stroke="#000" stroke-width="1.2" />
<ellipse cx="837.5" cy="158.3" rx="99.8" ry="57.6" transform="rotate(60 837.5 158.3)" fill="none" stroke="#000" stroke-width="4.0" />
<ellipse cx="777.8" cy="82.9" rx="9.7" ry="5.6" transform="rotate(60 777.8 82.9)" fill="none" stroke="#000" stroke-width="4.0" />
<ellipse cx="811.0" cy="69.0" rx="9.7" ry="5.6" transform="rotate(60 811.0 69.0)" fill="none" stroke="#000" stroke-width="4.0" />
<ellipse cx="863.7" cy="99.2" rx="9.7" ry="5.6" transform="rotate(60 863.7 99.2)" fill="none" stroke="#000" stroke-width="4.0" />
<ellipse cx="898.5" cy="153.7" rx="9.7" ry="5.6" transform="rotate(60 898.5 153.7)" fill="none" stroke="#000" stroke-width="4.0" />
<ellipse cx="902.0" cy="226.8" rx="9.7" ry="5.6" transform="rotate(60 902.0 226.8)" fill="none" stroke="#000" stroke-width="4.0" />
<ellipse cx="863.7" cy="248.8" rx="9.7" ry="5.6" transform="rotate(60 863.7 248.8)" fill="none" stroke="#000" stroke-width="4.0" />
<ellipse cx="826.6" cy="236.1" rx="9.7" ry="5.6" transform="rotate(60 826.6 236.1)" fill="none" stroke="#000" stroke-width="4.0" />
<ellipse cx="772.0" cy="151.4" rx="9.7" ry="5.6" transform="rotate(60 772.0 151.4)" fill="none" stroke="#000" stroke-width="4.0" />
<ellipse cx="800.6" cy="207.5" rx="9.7" ry="5.6" transform="rotate(60 800.6 207.5)" fill="none" stroke="#000" stroke-width="4.0" />
<ellipse cx="837.5" cy="158.3" rx="99.8" ry="57.6" transform="rotate(60 837.5 158.3)" fill="#fff" stroke="none" stroke-width="0" />
<ellipse cx="777.8" cy="82.9" rx="9.7" ry="5.6" transform="rotate(60 777.8 82.9)" fill="#fff" stroke="none" stroke-width="0" />
<ellipse cx="811.0" cy="69.0" rx="9.7" ry="5.6" transform="rotate(60 811.0 69.0)" fill="#fff" stroke="none" stroke-width="0" />
<ellipse cx="863.7" cy="99.2" rx="9.7" ry="5.6" transform="rotate(60 863.7 99.2)" fill="#fff" stroke="none" stroke-width="0" />
<ellipse cx="898.5" cy="153.7" rx="9.7" ry="5.6" transform="rotate(60 898.5 153.7)" fill="#fff" stroke="none" stroke-width="0" />
<ellipse cx="902.0" cy="226.8" rx="9.7" ry="5.6" transform="rotate(60 902.0 226.8)" fill="#fff" stroke="none" stroke-width="0" />
<ellipse cx="863.7" cy="248.8" rx="9.7" ry="5.6" transform="rotate(60 863.7 248.8)" fill="#fff" stroke="none" stroke-width="0" />
<ellipse cx="826.6" cy="236.1" rx="9.7" ry="5.6" transform="rotate(60 826.6 236.1)" fill="#fff" stroke="none" stroke-width="0" />
<ellipse cx="772.0" cy="151.4" rx="9.7" ry="5.6" transform="rotate(60 772.0 151.4)" fill="#fff" stroke="none" stroke-width="0" />
<ellipse cx="800.6" cy="207.5" rx="9.7" ry="5.6" transform="rotate(60 800.6 207.5)" fill="#fff" stroke="none" stroke-width="0" />
<ellipse cx="777.8" cy="82.9" rx="4.4" ry="2.7" transform="rotate(60 777.8 82.9)" fill="#fff" stroke="#000" stroke-width="1.0" />
<ellipse cx="811.0" cy="69.0" rx="4.4" ry="2.7" transform="rotate(60 811.0 69.0)" fill="#fff" stroke="#000" stroke-width="1.0" />
<ellipse cx="863.7" cy="99.2" rx="4.4" ry="2.7" transform="rotate(60 863.7 99.2)" fill="#fff" stroke="#000" stroke-width="1.0" />
<ellipse cx="898.5" cy="153.7" rx="4.4" ry="2.7" transform="rotate(60 898.5 153.7)" fill="#fff" stroke="#000" stroke-width="1.0" />
<ellipse cx="902.0" cy="226.8" rx="4.4" ry="2.7" transform="rotate(60 902.0 226.8)" fill="#fff" stroke="#000" stroke-width="1.0" />
<ellipse cx="863.7" cy="248.8" rx="4.4" ry="2.7" transform="rotate(60 863.7 248.8)" fill="#fff" stroke="#000" stroke-width="1.0" />
<ellipse cx="826.6" cy="236.1" rx="4.4" ry="2.7" transform="rotate(60 826.6 236.1)" fill="#fff" stroke="#000" stroke-width="1.0" />
<ellipse cx="772.0" cy="151.4" rx="4.4" ry="2.7" transform="rotate(60 772.0 151.4)" fill="#fff" stroke="#000" stroke-width="1.0" />
<ellipse cx="832.8" cy="161.1" rx="90.7" ry="52.4" transform="rotate(60 832.8 161.1)" fill="none" stroke="#000" stroke-width="1.5" />
<clipPath id="covrim"><rect x="832.8" y="0" width="200" height="400" transform="rotate(30 832.8 161.1)"/></clipPath>
<g clip-path="url(#covrim)">
<ellipse cx="831.2" cy="162.0" rx="87.7" ry="50.6" transform="rotate(60 831.2 162.0)" fill="none" stroke="#000" stroke-width="1.0" />
</g>
<ellipse cx="817.3" cy="92.2" rx="4.4" ry="2.7" transform="rotate(60 817.3 92.2)" fill="#fff" stroke="#000" stroke-width="1.0" />
<ellipse cx="849.3" cy="110.8" rx="4.4" ry="2.7" transform="rotate(60 849.3 110.8)" fill="#fff" stroke="#000" stroke-width="1.0" />
<ellipse cx="884.1" cy="169.9" rx="4.4" ry="2.7" transform="rotate(60 884.1 169.9)" fill="#fff" stroke="#000" stroke-width="1.0" />
<ellipse cx="884.6" cy="212.9" rx="4.4" ry="2.7" transform="rotate(60 884.6 212.9)" fill="#fff" stroke="#000" stroke-width="1.0" />
<ellipse cx="855.6" cy="233.7" rx="4.4" ry="2.7" transform="rotate(60 855.6 233.7)" fill="#fff" stroke="#000" stroke-width="1.0" />
<ellipse cx="809.2" cy="205.9" rx="4.4" ry="2.7" transform="rotate(60 809.2 205.9)" fill="#fff" stroke="#000" stroke-width="1.0" />
<ellipse cx="780.9" cy="153.7" rx="4.4" ry="2.7" transform="rotate(60 780.9 153.7)" fill="#fff" stroke="#000" stroke-width="1.0" />
<ellipse cx="780.9" cy="109.6" rx="4.4" ry="2.7" transform="rotate(60 780.9 109.6)" fill="#fff" stroke="#000" stroke-width="1.0" />
<ellipse cx="832.8" cy="161.8" rx="59.6" ry="34.4" transform="rotate(60 832.8 161.8)" fill="#fff" stroke="#000" stroke-width="1.2" />
<clipPath id="covbore"><ellipse cx="832.8" cy="161.8" rx="59.6" ry="34.4" transform="rotate(60 832.8 161.8)"/></clipPath>
<g clip-path="url(#covbore)">
<ellipse cx="846.8" cy="153.7" rx="59.6" ry="34.4" transform="rotate(60 846.8 153.7)" fill="none" stroke="#000" stroke-width="1.2" />
</g>
<path d="M916.1,193.6 L925.2,189.7 L928.7,192.0 L929.1,202.4 L919.4,206.6 L916.1,204.3 Z" fill="#fff" stroke="#000" stroke-width="1.2" />
<line x1="925.2" y1="189.7" x2="925.6" y2="203.6" stroke="#000" stroke-width="0.9" />
<ellipse cx="951.3" cy="92.0" rx="58.4" ry="33.7" transform="rotate(60 951.3 92.0)" fill="#fff" stroke="#000" stroke-width="1.8" />
<path d="M969.2,149.1 L980.5,142.6 L922.1,41.5 L910.8,48.0 Z" fill="#fff" stroke="none" stroke-width="0" />
<line x1="969.2" y1="149.1" x2="980.5" y2="142.6" stroke="#000" stroke-width="1.8" />
<line x1="910.8" y1="48.0" x2="922.1" y2="41.5" stroke="#000" stroke-width="1.8" />
<ellipse cx="940.0" cy="98.6" rx="58.4" ry="33.7" transform="rotate(60 940.0 98.6)" fill="#fff" stroke="#000" stroke-width="1.7" />
<ellipse cx="941.0" cy="98.1" rx="55.1" ry="31.8" transform="rotate(60 941.0 98.1)" fill="none" stroke="#000" stroke-width="0.9" />
<ellipse cx="942.2" cy="97.9" rx="50.9" ry="29.4" transform="rotate(60 942.2 97.9)" fill="none" stroke="#000" stroke-width="0.9" />
<ellipse cx="943.1" cy="97.7" rx="46.5" ry="26.9" transform="rotate(60 943.1 97.7)" fill="none" stroke="#000" stroke-width="1.5" />
<ellipse cx="945.1" cy="97.4" rx="41.5" ry="24.0" transform="rotate(60 945.1 97.4)" fill="none" stroke="#000" stroke-width="0.9" />
<ellipse cx="946.0" cy="97.3" rx="37.6" ry="21.7" transform="rotate(60 946.0 97.3)" fill="none" stroke="#000" stroke-width="1.7" />
<clipPath id="cs1"><polygon points="761.7,208.9 857.6,153.5 854.6,148.3 758.7,203.7"/></clipPath>
<line x1="508" y1="352" x2="944.8" y2="99.6" stroke="#555" stroke-width="0.9" stroke-dasharray="26 4 5 4" clip-path="url(#cs1)"/>
<clipPath id="cs2"><polygon points="898.4,129.9 946.3,102.2 943.3,97.0 895.4,124.7"/></clipPath>
<line x1="508" y1="352" x2="944.8" y2="99.6" stroke="#555" stroke-width="0.9" stroke-dasharray="26 4 5 4" clip-path="url(#cs2)"/>
<clipPath id="cs3"><polygon points="882.3,211.2 758.5,283.0 761.5,288.2 885.3,216.4"/></clipPath>
<line x1="1011" y1="140" x2="653.6" y2="347.3" stroke="#555" stroke-width="0.9" stroke-dasharray="26 4 5 4" clip-path="url(#cs3)"/>
<clipPath id="cs4"><polygon points="809.5,66.6 758.5,96.4 761.5,101.5 812.6,71.8"/></clipPath>
<line x1="855.4" y1="43.4" x2="684.3" y2="143" stroke="#555" stroke-width="0.9" stroke-dasharray="26 4 5 4" clip-path="url(#cs4)"/>
<ellipse cx="893.2" cy="20.3" rx="9.3" ry="5.4" transform="rotate(60 893.2 20.3)" fill="#fff" stroke="#000" stroke-width="1.5" />
<path d="M888.4,33.8 L897.9,28.3 L888.6,12.2 L879.1,17.7 Z" fill="#fff" stroke="none" stroke-width="0" />
<line x1="888.4" y1="33.8" x2="897.9" y2="28.3" stroke="#000" stroke-width="1.5" />
<line x1="879.1" y1="17.7" x2="888.6" y2="12.2" stroke="#000" stroke-width="1.5" />
<ellipse cx="883.7" cy="25.8" rx="9.3" ry="5.4" transform="rotate(60 883.7 25.8)" fill="#fff" stroke="#000" stroke-width="1.5" />
<line x1="885.8" y1="19.7" x2="895.3" y2="14.2" stroke="#000" stroke-width="1.0" />
<line x1="890.0" y1="27.0" x2="899.5" y2="21.5" stroke="#000" stroke-width="1.0" />
<ellipse cx="883.7" cy="25.8" rx="10.3" ry="5.9" transform="rotate(60 883.7 25.8)" fill="#fff" stroke="#000" stroke-width="1.4" />
<path d="M884.5,37.2 L888.9,34.7 L878.6,16.8 L874.2,19.3 Z" fill="#fff" stroke="none" stroke-width="0" />
<line x1="884.5" y1="37.2" x2="888.9" y2="34.7" stroke="#000" stroke-width="1.4" />
<line x1="874.2" y1="19.3" x2="878.6" y2="16.8" stroke="#000" stroke-width="1.4" />
<ellipse cx="879.4" cy="28.2" rx="10.3" ry="5.9" transform="rotate(60 879.4 28.2)" fill="#fff" stroke="#000" stroke-width="1.4" />
<ellipse cx="877.6" cy="29.2" rx="11.5" ry="6.6" transform="rotate(60 877.6 29.2)" fill="#fff" stroke="#000" stroke-width="1.5" />
<path d="M880.8,40.7 L883.4,39.2 L871.9,19.3 L869.3,20.8 Z" fill="#fff" stroke="none" stroke-width="0" />
<line x1="880.8" y1="40.7" x2="883.4" y2="39.2" stroke="#000" stroke-width="1.5" />
<line x1="869.3" y1="20.8" x2="871.9" y2="19.3" stroke="#000" stroke-width="1.5" />
<ellipse cx="875.1" cy="30.8" rx="11.5" ry="6.6" transform="rotate(60 875.1 30.8)" fill="#fff" stroke="#000" stroke-width="1.5" />
<ellipse cx="875.5" cy="30.5" rx="5.6" ry="3.2" transform="rotate(60 875.5 30.5)" fill="#fff" stroke="#000" stroke-width="1.3" />
<path d="M872.2,38.8 L878.3,35.3 L872.7,25.7 L866.6,29.2 Z" fill="#fff" stroke="none" stroke-width="0" />
<line x1="872.2" y1="38.8" x2="878.3" y2="35.3" stroke="#000" stroke-width="1.3" />
<line x1="866.6" y1="29.2" x2="872.7" y2="25.7" stroke="#000" stroke-width="1.3" />
<ellipse cx="869.4" cy="34.0" rx="5.6" ry="3.2" transform="rotate(60 869.4 34.0)" fill="#fff" stroke="#000" stroke-width="1.3" />
<ellipse cx="869.4" cy="34.0" rx="5.4" ry="3.1" transform="rotate(60 869.4 34.0)" fill="#fff" stroke="#000" stroke-width="1.3" />
<path d="M857.4,47.2 L872.1,38.7 L866.7,29.3 L852.0,37.8 Z" fill="#fff" stroke="none" stroke-width="0" />
<line x1="857.4" y1="47.2" x2="872.1" y2="38.7" stroke="#000" stroke-width="1.3" />
<line x1="852.0" y1="37.8" x2="866.7" y2="29.3" stroke="#000" stroke-width="1.3" />
<ellipse cx="854.7" cy="42.5" rx="5.4" ry="3.1" transform="rotate(60 854.7 42.5)" fill="#fff" stroke="#000" stroke-width="1.3" />
<path d="M854.6,36.3 A5.4,3.1 60 0 1 860.0,45.7" fill="none" stroke="#000" stroke-width="1.1" />
<path d="M857.2,34.8 A5.4,3.1 60 0 1 862.6,44.2" fill="none" stroke="#000" stroke-width="1.1" />
<path d="M859.8,33.3 A5.4,3.1 60 0 1 865.2,42.7" fill="none" stroke="#000" stroke-width="1.1" />
<path d="M862.4,31.8 A5.4,3.1 60 0 1 867.8,41.2" fill="none" stroke="#000" stroke-width="1.1" />
<path d="M865.0,30.3 A5.4,3.1 60 0 1 870.4,39.7" fill="none" stroke="#000" stroke-width="1.1" />
<ellipse cx="1053.5" cy="116.2" rx="9.3" ry="5.4" transform="rotate(60 1053.5 116.2)" fill="#fff" stroke="#000" stroke-width="1.5" />
<path d="M1048.7,129.8 L1058.2,124.3 L1048.9,108.2 L1039.4,113.7 Z" fill="#fff" stroke="none" stroke-width="0" />
<line x1="1048.7" y1="129.8" x2="1058.2" y2="124.3" stroke="#000" stroke-width="1.5" />
<line x1="1039.4" y1="113.7" x2="1048.9" y2="108.2" stroke="#000" stroke-width="1.5" />
<ellipse cx="1044.0" cy="121.8" rx="9.3" ry="5.4" transform="rotate(60 1044.0 121.8)" fill="#fff" stroke="#000" stroke-width="1.5" />
<line x1="1046.1" y1="115.7" x2="1055.6" y2="110.2" stroke="#000" stroke-width="1.0" />
<line x1="1050.3" y1="123.0" x2="1059.8" y2="117.5" stroke="#000" stroke-width="1.0" />
<ellipse cx="1044.0" cy="121.8" rx="10.3" ry="5.9" transform="rotate(60 1044.0 121.8)" fill="#fff" stroke="#000" stroke-width="1.4" />
<path d="M1044.8,133.2 L1049.2,130.7 L1038.9,112.8 L1034.5,115.3 Z" fill="#fff" stroke="none" stroke-width="0" />
<line x1="1044.8" y1="133.2" x2="1049.2" y2="130.7" stroke="#000" stroke-width="1.4" />
<line x1="1034.5" y1="115.3" x2="1038.9" y2="112.8" stroke="#000" stroke-width="1.4" />
<ellipse cx="1039.7" cy="124.2" rx="10.3" ry="5.9" transform="rotate(60 1039.7 124.2)" fill="#fff" stroke="#000" stroke-width="1.4" />
<ellipse cx="1037.9" cy="125.2" rx="11.5" ry="6.6" transform="rotate(60 1037.9 125.2)" fill="#fff" stroke="#000" stroke-width="1.5" />
<path d="M1041.1,136.7 L1043.7,135.2 L1032.2,115.3 L1029.6,116.8 Z" fill="#fff" stroke="none" stroke-width="0" />
<line x1="1041.1" y1="136.7" x2="1043.7" y2="135.2" stroke="#000" stroke-width="1.5" />
<line x1="1029.6" y1="116.8" x2="1032.2" y2="115.3" stroke="#000" stroke-width="1.5" />
<ellipse cx="1035.4" cy="126.8" rx="11.5" ry="6.6" transform="rotate(60 1035.4 126.8)" fill="#fff" stroke="#000" stroke-width="1.5" />
<ellipse cx="1035.8" cy="126.5" rx="5.6" ry="3.2" transform="rotate(60 1035.8 126.5)" fill="#fff" stroke="#000" stroke-width="1.3" />
<path d="M1032.5,134.8 L1038.6,131.3 L1033.0,121.7 L1026.9,125.2 Z" fill="#fff" stroke="none" stroke-width="0" />
<line x1="1032.5" y1="134.8" x2="1038.6" y2="131.3" stroke="#000" stroke-width="1.3" />
<line x1="1026.9" y1="125.2" x2="1033.0" y2="121.7" stroke="#000" stroke-width="1.3" />
<ellipse cx="1029.7" cy="130.0" rx="5.6" ry="3.2" transform="rotate(60 1029.7 130.0)" fill="#fff" stroke="#000" stroke-width="1.3" />
<ellipse cx="1029.7" cy="130.0" rx="5.4" ry="3.1" transform="rotate(60 1029.7 130.0)" fill="#fff" stroke="#000" stroke-width="1.3" />
<path d="M1017.7,143.2 L1032.4,134.7 L1027.0,125.3 L1012.3,133.8 Z" fill="#fff" stroke="none" stroke-width="0" />
<line x1="1017.7" y1="143.2" x2="1032.4" y2="134.7" stroke="#000" stroke-width="1.3" />
<line x1="1012.3" y1="133.8" x2="1027.0" y2="125.3" stroke="#000" stroke-width="1.3" />
<ellipse cx="1015.0" cy="138.5" rx="5.4" ry="3.1" transform="rotate(60 1015.0 138.5)" fill="#fff" stroke="#000" stroke-width="1.3" />
<path d="M1014.9,132.3 A5.4,3.1 60 0 1 1020.3,141.7" fill="none" stroke="#000" stroke-width="1.1" />
<path d="M1017.5,130.8 A5.4,3.1 60 0 1 1022.9,140.2" fill="none" stroke="#000" stroke-width="1.1" />
<path d="M1020.1,129.3 A5.4,3.1 60 0 1 1025.5,138.7" fill="none" stroke="#000" stroke-width="1.1" />
<path d="M1022.7,127.8 A5.4,3.1 60 0 1 1028.1,137.2" fill="none" stroke="#000" stroke-width="1.1" />
<path d="M1025.3,126.3 A5.4,3.1 60 0 1 1030.7,135.7" fill="none" stroke="#000" stroke-width="1.1" />
<path d="M1000.8000000000001,391.5 L1000.8000000000001,414.0 A5.8,2.8 0 0 0 1012.4,414.0 L1012.4,391.5 Z" fill="#fff" stroke="#000" stroke-width="1.2" />
<path d="M1000.8000000000001,410.4 A5.8,2.8 0 0 0 1012.4,410.4" fill="none" stroke="#000" stroke-width="1.0" />
<path d="M1000.8000000000001,406.8 A5.8,2.8 0 0 0 1012.4,406.8" fill="none" stroke="#000" stroke-width="1.0" />
<path d="M1000.8000000000001,403.2 A5.8,2.8 0 0 0 1012.4,403.2" fill="none" stroke="#000" stroke-width="1.0" />
<path d="M1000.8000000000001,399.6 A5.8,2.8 0 0 0 1012.4,399.6" fill="none" stroke="#000" stroke-width="1.0" />
<path d="M1000.8000000000001,396.0 A5.8,2.8 0 0 0 1012.4,396.0" fill="none" stroke="#000" stroke-width="1.0" />
<path d="M1000.8000000000001,392.4 A5.8,2.8 0 0 0 1012.4,392.4" fill="none" stroke="#000" stroke-width="1.0" />
<path d="M999.5,348.5 L999.5,390.5 A7.1,3 0 0 0 1013.7,390.5 L1013.7,348.5 Z" fill="#fff" stroke="#000" stroke-width="1.2" />
<line x1="1001.4" y1="351.5" x2="1001.4" y2="391.5" stroke="#000" stroke-width="0.8" />
<line x1="1004.0" y1="351.5" x2="1004.0" y2="391.5" stroke="#000" stroke-width="0.8" />
<line x1="1006.8" y1="351.5" x2="1006.8" y2="391.5" stroke="#000" stroke-width="0.8" />
<line x1="1009.4" y1="351.5" x2="1009.4" y2="391.5" stroke="#000" stroke-width="0.8" />
<line x1="1011.8" y1="351.5" x2="1011.8" y2="391.5" stroke="#000" stroke-width="0.8" />
<path d="M1000.6,341.5 L1000.6,348.5 A6,2.6 0 0 0 1012.6,348.5 L1012.6,341.5 Z" fill="#fff" stroke="#000" stroke-width="1.2" />
<path d="M992.6,336.8 L992.6,339.5 A14,5.6 0 0 0 1020.6,339.5 L1020.6,336.8 Z" fill="#fff" stroke="#000" stroke-width="1.2" />
<ellipse cx="1006.6" cy="336.8" rx="14" ry="5.6" fill="#fff" stroke="#000" stroke-width="1.2"/>
<path d="M995.9,327.3 L995.9,336.0 A10.7,5 0 0 0 1017.3000000000001,336.0 L1017.3000000000001,327.3 Z" fill="#fff" stroke="#000" stroke-width="1.2" />
<ellipse cx="1006.6" cy="327.3" rx="10.7" ry="5.6" fill="#fff" stroke="#000" stroke-width="1.2"/>
<line x1="1000.1" y1="332.5" x2="1000.1" y2="340.0" stroke="#000" stroke-width="0.9" />
<line x1="1013.6" y1="332.5" x2="1013.6" y2="340.0" stroke="#000" stroke-width="0.9" />
<path d="M700.5,581 L700.5,603.5 A5.8,2.8 0 0 0 712.0999999999999,603.5 L712.0999999999999,581 Z" fill="#fff" stroke="#000" stroke-width="1.2" />
<path d="M700.5,599.9 A5.8,2.8 0 0 0 712.0999999999999,599.9" fill="none" stroke="#000" stroke-width="1.0" />
<path d="M700.5,596.3 A5.8,2.8 0 0 0 712.0999999999999,596.3" fill="none" stroke="#000" stroke-width="1.0" />
<path d="M700.5,592.7 A5.8,2.8 0 0 0 712.0999999999999,592.7" fill="none" stroke="#000" stroke-width="1.0" />
<path d="M700.5,589.1 A5.8,2.8 0 0 0 712.0999999999999,589.1" fill="none" stroke="#000" stroke-width="1.0" />
<path d="M700.5,585.5 A5.8,2.8 0 0 0 712.0999999999999,585.5" fill="none" stroke="#000" stroke-width="1.0" />
<path d="M700.5,581.9 A5.8,2.8 0 0 0 712.0999999999999,581.9" fill="none" stroke="#000" stroke-width="1.0" />
<path d="M699.1999999999999,538 L699.1999999999999,580 A7.1,3 0 0 0 713.4,580 L713.4,538 Z" fill="#fff" stroke="#000" stroke-width="1.2" />
<line x1="701.1" y1="541.0" x2="701.1" y2="581.0" stroke="#000" stroke-width="0.8" />
<line x1="703.7" y1="541.0" x2="703.7" y2="581.0" stroke="#000" stroke-width="0.8" />
<line x1="706.5" y1="541.0" x2="706.5" y2="581.0" stroke="#000" stroke-width="0.8" />
<line x1="709.1" y1="541.0" x2="709.1" y2="581.0" stroke="#000" stroke-width="0.8" />
<line x1="711.5" y1="541.0" x2="711.5" y2="581.0" stroke="#000" stroke-width="0.8" />
<path d="M700.3,531 L700.3,538 A6,2.6 0 0 0 712.3,538 L712.3,531 Z" fill="#fff" stroke="#000" stroke-width="1.2" />
<path d="M692.3,526.3 L692.3,529 A14,5.6 0 0 0 720.3,529 L720.3,526.3 Z" fill="#fff" stroke="#000" stroke-width="1.2" />
<ellipse cx="706.3" cy="526.3" rx="14" ry="5.6" fill="#fff" stroke="#000" stroke-width="1.2"/>
<path d="M695.5999999999999,516.8 L695.5999999999999,525.5 A10.7,5 0 0 0 717.0,525.5 L717.0,516.8 Z" fill="#fff" stroke="#000" stroke-width="1.2" />
<ellipse cx="706.3" cy="516.8" rx="10.7" ry="5.6" fill="#fff" stroke="#000" stroke-width="1.2"/>
<line x1="699.8" y1="522.0" x2="699.8" y2="529.5" stroke="#000" stroke-width="0.9" />
<line x1="713.3" y1="522.0" x2="713.3" y2="529.5" stroke="#000" stroke-width="0.9" />
<path d="M420.0,743.6 L420.0,766.1 A5.8,2.8 0 0 0 431.6,766.1 L431.6,743.6 Z" fill="#fff" stroke="#000" stroke-width="1.2" />
<path d="M420.0,762.5 A5.8,2.8 0 0 0 431.6,762.5" fill="none" stroke="#000" stroke-width="1.0" />
<path d="M420.0,758.9 A5.8,2.8 0 0 0 431.6,758.9" fill="none" stroke="#000" stroke-width="1.0" />
<path d="M420.0,755.3 A5.8,2.8 0 0 0 431.6,755.3" fill="none" stroke="#000" stroke-width="1.0" />
<path d="M420.0,751.7 A5.8,2.8 0 0 0 431.6,751.7" fill="none" stroke="#000" stroke-width="1.0" />
<path d="M420.0,748.1 A5.8,2.8 0 0 0 431.6,748.1" fill="none" stroke="#000" stroke-width="1.0" />
<path d="M420.0,744.5 A5.8,2.8 0 0 0 431.6,744.5" fill="none" stroke="#000" stroke-width="1.0" />
<path d="M418.7,700.6 L418.7,742.6 A7.1,3 0 0 0 432.90000000000003,742.6 L432.90000000000003,700.6 Z" fill="#fff" stroke="#000" stroke-width="1.2" />
<line x1="420.6" y1="703.6" x2="420.6" y2="743.6" stroke="#000" stroke-width="0.8" />
<line x1="423.2" y1="703.6" x2="423.2" y2="743.6" stroke="#000" stroke-width="0.8" />
<line x1="426.0" y1="703.6" x2="426.0" y2="743.6" stroke="#000" stroke-width="0.8" />
<line x1="428.6" y1="703.6" x2="428.6" y2="743.6" stroke="#000" stroke-width="0.8" />
<line x1="431.0" y1="703.6" x2="431.0" y2="743.6" stroke="#000" stroke-width="0.8" />
<path d="M419.8,693.6 L419.8,700.6 A6,2.6 0 0 0 431.8,700.6 L431.8,693.6 Z" fill="#fff" stroke="#000" stroke-width="1.2" />
<path d="M411.8,688.9 L411.8,691.6 A14,5.6 0 0 0 439.8,691.6 L439.8,688.9 Z" fill="#fff" stroke="#000" stroke-width="1.2" />
<ellipse cx="425.8" cy="688.9" rx="14" ry="5.6" fill="#fff" stroke="#000" stroke-width="1.2"/>
<path d="M415.1,679.4 L415.1,688.1 A10.7,5 0 0 0 436.5,688.1 L436.5,679.4 Z" fill="#fff" stroke="#000" stroke-width="1.2" />
<ellipse cx="425.8" cy="679.4" rx="10.7" ry="5.6" fill="#fff" stroke="#000" stroke-width="1.2"/>
<line x1="419.3" y1="684.6" x2="419.3" y2="692.1" stroke="#000" stroke-width="0.9" />
<line x1="432.8" y1="684.6" x2="432.8" y2="692.1" stroke="#000" stroke-width="0.9" />
<path d="M659.5,806.2 L659.5,831.7 L673.5,831.7 L673.5,806.2 Z" fill="#fff" stroke="#000" stroke-width="1.2" />
<ellipse cx="666.5" cy="806.2" rx="7" ry="3.2" fill="#fff" stroke="#000" stroke-width="1.2"/>
<path d="M659.5,809.9 A7,3.2 0 0 0 673.5,809.9" fill="none" stroke="#000" stroke-width="1.0" />
<path d="M659.5,813.6 A7,3.2 0 0 0 673.5,813.6" fill="none" stroke="#000" stroke-width="1.0" />
<path d="M659.5,817.3 A7,3.2 0 0 0 673.5,817.3" fill="none" stroke="#000" stroke-width="1.0" />
<path d="M659.5,821.0 A7,3.2 0 0 0 673.5,821.0" fill="none" stroke="#000" stroke-width="1.0" />
<path d="M659.5,824.7 A7,3.2 0 0 0 673.5,824.7" fill="none" stroke="#000" stroke-width="1.0" />
<path d="M659.5,828.4 A7,3.2 0 0 0 673.5,828.4" fill="none" stroke="#000" stroke-width="1.0" />
<path d="M657.5,831.7 L657.5,874.2 A9,4 0 0 0 675.5,874.2 L675.5,831.7 A9,3.5 0 0 0 657.5,831.7 Z" fill="#fff" stroke="#000" stroke-width="1.2" />
<path d="M657.5,831.7 A9,3.5 0 0 1 675.5,831.7" fill="none" stroke="#000" stroke-width="1.2" />
<path d="M657.5,834.7 A9,3.5 0 0 0 675.5,834.7" fill="none" stroke="#000" stroke-width="0.9" />
<clipPath id="clip666"><rect x="658.1" y="838.2" width="16.8" height="37.5"/></clipPath>
<g clip-path="url(#clip666)">
<line x1="633.3" y1="835.7" x2="651.3" y2="880.2" stroke="#000" stroke-width="1.0" />
<line x1="637.0" y1="835.7" x2="655.0" y2="880.2" stroke="#000" stroke-width="1.0" />
<line x1="640.7" y1="835.7" x2="658.7" y2="880.2" stroke="#000" stroke-width="1.0" />
<line x1="644.4" y1="835.7" x2="662.4" y2="880.2" stroke="#000" stroke-width="1.0" />
<line x1="648.1" y1="835.7" x2="666.1" y2="880.2" stroke="#000" stroke-width="1.0" />
<line x1="651.8" y1="835.7" x2="669.8" y2="880.2" stroke="#000" stroke-width="1.0" />
<line x1="655.5" y1="835.7" x2="673.5" y2="880.2" stroke="#000" stroke-width="1.0" />
<line x1="659.2" y1="835.7" x2="677.2" y2="880.2" stroke="#000" stroke-width="1.0" />
<line x1="662.9" y1="835.7" x2="680.9" y2="880.2" stroke="#000" stroke-width="1.0" />
<line x1="666.6" y1="835.7" x2="684.6" y2="880.2" stroke="#000" stroke-width="1.0" />
<line x1="670.3" y1="835.7" x2="688.3" y2="880.2" stroke="#000" stroke-width="1.0" />
<line x1="674.0" y1="835.7" x2="692.0" y2="880.2" stroke="#000" stroke-width="1.0" />
<line x1="677.7" y1="835.7" x2="695.7" y2="880.2" stroke="#000" stroke-width="1.0" />
<line x1="681.4" y1="835.7" x2="699.4" y2="880.2" stroke="#000" stroke-width="1.0" />
<line x1="685.1" y1="835.7" x2="703.1" y2="880.2" stroke="#000" stroke-width="1.0" />
</g>
<path d="M659.5,875.2 L659.5,887.2 A7,3.5 0 0 0 673.5,887.2 L673.5,875.2" fill="#fff" stroke="#000" stroke-width="1.2" />
<path d="M651.6,886.2 L651.6,889.4000000000001 A14.9,7.2 0 0 0 681.4,889.4000000000001 L681.4,886.2 Z" fill="#fff" stroke="#000" stroke-width="1.2" />
<ellipse cx="666.5" cy="886.2" rx="14.9" ry="7.2" fill="#fff" stroke="#000" stroke-width="1.2"/>
<path d="M659.5,877.2 L659.5,886.7 A7,3.4 0 0 0 673.5,886.7 L673.5,877.2" fill="#fff" stroke="#000" stroke-width="1.2" />
<path d="M654.2,890.7 L654.2,900.7 L660.9,904.8000000000001 L672.1,904.8000000000001 L678.8,900.7 L678.8,890.7 A14.9,7.2 0 0 1 654.2,890.7 Z" fill="#fff" stroke="#000" stroke-width="1.2" />
<line x1="660.9" y1="896.7" x2="660.9" y2="904.8" stroke="#000" stroke-width="0.9" />
<line x1="672.1" y1="896.7" x2="672.1" y2="904.8" stroke="#000" stroke-width="0.9" />
<path d="M378.7,937.2 L378.7,962.7 L392.7,962.7 L392.7,937.2 Z" fill="#fff" stroke="#000" stroke-width="1.2" />
<ellipse cx="385.7" cy="937.2" rx="7" ry="3.2" fill="#fff" stroke="#000" stroke-width="1.2"/>
<path d="M378.7,940.9 A7,3.2 0 0 0 392.7,940.9" fill="none" stroke="#000" stroke-width="1.0" />
<path d="M378.7,944.6 A7,3.2 0 0 0 392.7,944.6" fill="none" stroke="#000" stroke-width="1.0" />
<path d="M378.7,948.3 A7,3.2 0 0 0 392.7,948.3" fill="none" stroke="#000" stroke-width="1.0" />
<path d="M378.7,952.0 A7,3.2 0 0 0 392.7,952.0" fill="none" stroke="#000" stroke-width="1.0" />
<path d="M378.7,955.7 A7,3.2 0 0 0 392.7,955.7" fill="none" stroke="#000" stroke-width="1.0" />
<path d="M378.7,959.4 A7,3.2 0 0 0 392.7,959.4" fill="none" stroke="#000" stroke-width="1.0" />
<path d="M376.7,962.7 L376.7,1005.2 A9,4 0 0 0 394.7,1005.2 L394.7,962.7 A9,3.5 0 0 0 376.7,962.7 Z" fill="#fff" stroke="#000" stroke-width="1.2" />
<path d="M376.7,962.7 A9,3.5 0 0 1 394.7,962.7" fill="none" stroke="#000" stroke-width="1.2" />
<path d="M376.7,965.7 A9,3.5 0 0 0 394.7,965.7" fill="none" stroke="#000" stroke-width="0.9" />
<clipPath id="clip385"><rect x="377.3" y="969.2" width="16.8" height="37.5"/></clipPath>
<g clip-path="url(#clip385)">
<line x1="352.5" y1="966.7" x2="370.5" y2="1011.2" stroke="#000" stroke-width="1.0" />
<line x1="356.2" y1="966.7" x2="374.2" y2="1011.2" stroke="#000" stroke-width="1.0" />
<line x1="359.9" y1="966.7" x2="377.9" y2="1011.2" stroke="#000" stroke-width="1.0" />
<line x1="363.6" y1="966.7" x2="381.6" y2="1011.2" stroke="#000" stroke-width="1.0" />
<line x1="367.3" y1="966.7" x2="385.3" y2="1011.2" stroke="#000" stroke-width="1.0" />
<line x1="371.0" y1="966.7" x2="389.0" y2="1011.2" stroke="#000" stroke-width="1.0" />
<line x1="374.7" y1="966.7" x2="392.7" y2="1011.2" stroke="#000" stroke-width="1.0" />
<line x1="378.4" y1="966.7" x2="396.4" y2="1011.2" stroke="#000" stroke-width="1.0" />
<line x1="382.1" y1="966.7" x2="400.1" y2="1011.2" stroke="#000" stroke-width="1.0" />
<line x1="385.8" y1="966.7" x2="403.8" y2="1011.2" stroke="#000" stroke-width="1.0" />
<line x1="389.5" y1="966.7" x2="407.5" y2="1011.2" stroke="#000" stroke-width="1.0" />
<line x1="393.2" y1="966.7" x2="411.2" y2="1011.2" stroke="#000" stroke-width="1.0" />
<line x1="396.9" y1="966.7" x2="414.9" y2="1011.2" stroke="#000" stroke-width="1.0" />
<line x1="400.6" y1="966.7" x2="418.6" y2="1011.2" stroke="#000" stroke-width="1.0" />
<line x1="404.3" y1="966.7" x2="422.3" y2="1011.2" stroke="#000" stroke-width="1.0" />
</g>
<path d="M378.7,1006.2 L378.7,1018.2 A7,3.5 0 0 0 392.7,1018.2 L392.7,1006.2" fill="#fff" stroke="#000" stroke-width="1.2" />
<path d="M370.8,1017.2 L370.8,1020.4000000000001 A14.9,7.2 0 0 0 400.59999999999997,1020.4000000000001 L400.59999999999997,1017.2 Z" fill="#fff" stroke="#000" stroke-width="1.2" />
<ellipse cx="385.7" cy="1017.2" rx="14.9" ry="7.2" fill="#fff" stroke="#000" stroke-width="1.2"/>
<path d="M378.7,1008.2 L378.7,1017.7 A7,3.4 0 0 0 392.7,1017.7 L392.7,1008.2" fill="#fff" stroke="#000" stroke-width="1.2" />
<path d="M373.4,1021.7 L373.4,1031.7 L380.09999999999997,1035.8 L391.3,1035.8 L398.0,1031.7 L398.0,1021.7 A14.9,7.2 0 0 1 373.4,1021.7 Z" fill="#fff" stroke="#000" stroke-width="1.2" />
<line x1="380.1" y1="1027.7" x2="380.1" y2="1035.8" stroke="#000" stroke-width="0.9" />
<line x1="391.3" y1="1027.7" x2="391.3" y2="1035.8" stroke="#000" stroke-width="0.9" />
<ellipse cx="556.7" cy="739.4" rx="38.5" ry="22.2" transform="rotate(60 556.7 739.4)" fill="#fff" stroke="#000" stroke-width="1.7" />
<path d="M555.8,783.9 L576.0,772.7 L537.5,706.1 L517.2,717.3 Z" fill="#fff" stroke="none" stroke-width="0" />
<line x1="555.8" y1="783.9" x2="576.0" y2="772.7" stroke="#000" stroke-width="1.7" />
<line x1="517.2" y1="717.3" x2="537.5" y2="706.1" stroke="#000" stroke-width="1.7" />
<ellipse cx="536.5" cy="750.6" rx="38.5" ry="22.2" transform="rotate(60 536.5 750.6)" fill="#fff" stroke="#000" stroke-width="1.7" />
<ellipse cx="536.5" cy="750.6" rx="35.2" ry="20.3" transform="rotate(60 536.5 750.6)" fill="none" stroke="#000" stroke-width="1.0" />
<clipPath id="shc1"><ellipse cx="536.5" cy="750.6" rx="35.2" ry="20.3" transform="rotate(60 536.5 750.6)"/></clipPath>
<g clip-path="url(#shc1)">
<ellipse cx="556.7" cy="739.4" rx="35.2" ry="20.3" transform="rotate(60 556.7 739.4)" fill="none" stroke="#000" stroke-width="1.6" />
<ellipse cx="554.1" cy="740.9" rx="35.2" ry="20.3" transform="rotate(60 554.1 740.9)" fill="none" stroke="#000" stroke-width="0.9" />
<ellipse cx="544.3" cy="746.1" rx="35.2" ry="20.3" transform="rotate(60 544.3 746.1)" fill="none" stroke="#000" stroke-width="0.9" />
<ellipse cx="547.3" cy="744.4" rx="35.2" ry="20.3" transform="rotate(60 547.3 744.4)" fill="none" stroke="#000" stroke-width="0.9" />
</g>
<line x1="564.1" y1="764.5" x2="583.8" y2="754.9" stroke="#000" stroke-width="1.2" />
<line x1="511.0" y1="736.8" x2="520.5" y2="732.0" stroke="#000" stroke-width="1.0" />
<ellipse cx="567.3" cy="740.0" rx="3.0" ry="3.9" transform="rotate(-20 567.3 740.0)" fill="#fff" stroke="#000" stroke-width="1.1"/>
<ellipse cx="567.9" cy="740.3" rx="1.5" ry="2.4" transform="rotate(-20 567.3 740.0)" fill="none" stroke="#000" stroke-width="0.8"/>
<ellipse cx="296.7" cy="889.4" rx="38.5" ry="22.2" transform="rotate(60 296.7 889.4)" fill="#fff" stroke="#000" stroke-width="1.7" />
<path d="M295.8,933.9 L315.9,922.7 L277.4,856.1 L257.2,867.3 Z" fill="#fff" stroke="none" stroke-width="0" />
<line x1="295.8" y1="933.9" x2="315.9" y2="922.7" stroke="#000" stroke-width="1.7" />
<line x1="257.2" y1="867.3" x2="277.4" y2="856.1" stroke="#000" stroke-width="1.7" />
<ellipse cx="276.5" cy="900.6" rx="38.5" ry="22.2" transform="rotate(60 276.5 900.6)" fill="#fff" stroke="#000" stroke-width="1.7" />
<ellipse cx="276.5" cy="900.6" rx="35.2" ry="20.3" transform="rotate(60 276.5 900.6)" fill="none" stroke="#000" stroke-width="1.0" />
<clipPath id="shc2"><ellipse cx="276.5" cy="900.6" rx="35.2" ry="20.3" transform="rotate(60 276.5 900.6)"/></clipPath>
<g clip-path="url(#shc2)">
<ellipse cx="296.7" cy="889.4" rx="35.2" ry="20.3" transform="rotate(60 296.7 889.4)" fill="none" stroke="#000" stroke-width="1.6" />
<ellipse cx="294.1" cy="890.9" rx="35.2" ry="20.3" transform="rotate(60 294.1 890.9)" fill="none" stroke="#000" stroke-width="0.9" />
<ellipse cx="284.3" cy="896.1" rx="35.2" ry="20.3" transform="rotate(60 284.3 896.1)" fill="none" stroke="#000" stroke-width="0.9" />
<ellipse cx="287.3" cy="894.4" rx="35.2" ry="20.3" transform="rotate(60 287.3 894.4)" fill="none" stroke="#000" stroke-width="0.9" />
</g>
<line x1="304.1" y1="914.5" x2="323.8" y2="904.9" stroke="#000" stroke-width="1.2" />
<line x1="251.0" y1="886.8" x2="260.5" y2="882.0" stroke="#000" stroke-width="1.0" />
<ellipse cx="307.3" cy="890.0" rx="3.0" ry="3.9" transform="rotate(-20 307.3 890.0)" fill="#fff" stroke="#000" stroke-width="1.1"/>
<ellipse cx="307.9" cy="890.3" rx="1.5" ry="2.4" transform="rotate(-20 307.3 890.0)" fill="none" stroke="#000" stroke-width="0.8"/>
<ellipse cx="845.7" cy="574.4" rx="38.5" ry="22.2" transform="rotate(60 845.7 574.4)" fill="#fff" stroke="#000" stroke-width="1.7" />
<path d="M844.8,618.9 L865.0,607.7 L826.5,541.1 L806.2,552.3 Z" fill="#fff" stroke="none" stroke-width="0" />
<line x1="844.8" y1="618.9" x2="865.0" y2="607.7" stroke="#000" stroke-width="1.7" />
<line x1="806.2" y1="552.3" x2="826.5" y2="541.1" stroke="#000" stroke-width="1.7" />
<ellipse cx="825.5" cy="585.6" rx="38.5" ry="22.2" transform="rotate(60 825.5 585.6)" fill="#fff" stroke="#000" stroke-width="1.7" />
<ellipse cx="825.5" cy="585.6" rx="35.2" ry="20.3" transform="rotate(60 825.5 585.6)" fill="none" stroke="#000" stroke-width="1.0" />
<clipPath id="shc3"><ellipse cx="825.5" cy="585.6" rx="35.2" ry="20.3" transform="rotate(60 825.5 585.6)"/></clipPath>
<g clip-path="url(#shc3)">
<ellipse cx="845.7" cy="574.4" rx="35.2" ry="20.3" transform="rotate(60 845.7 574.4)" fill="none" stroke="#000" stroke-width="1.6" />
<ellipse cx="843.1" cy="575.9" rx="35.2" ry="20.3" transform="rotate(60 843.1 575.9)" fill="none" stroke="#000" stroke-width="0.9" />
<ellipse cx="833.3" cy="581.1" rx="35.2" ry="20.3" transform="rotate(60 833.3 581.1)" fill="none" stroke="#000" stroke-width="0.9" />
<ellipse cx="836.3" cy="579.4" rx="35.2" ry="20.3" transform="rotate(60 836.3 579.4)" fill="none" stroke="#000" stroke-width="0.9" />
</g>
<line x1="853.1" y1="599.5" x2="872.8" y2="589.9" stroke="#000" stroke-width="1.2" />
<line x1="800.0" y1="571.8" x2="809.5" y2="567.0" stroke="#000" stroke-width="1.0" />
<ellipse cx="856.3" cy="575.0" rx="3.0" ry="3.9" transform="rotate(-20 856.3 575.0)" fill="#fff" stroke="#000" stroke-width="1.1"/>
<ellipse cx="856.9" cy="575.3" rx="1.5" ry="2.4" transform="rotate(-20 856.3 575.0)" fill="none" stroke="#000" stroke-width="0.8"/>
<path d="M319.5,778.7 L341.9,766.2 Q343.1,768.5 346.5,770.5 L352.9,771.7 L352.9,763.0 L376.7,749.4 C379.5,751.1 388.6,756.6 394.0,759.6 C399.3,762.6 405.2,765.2 408.8,767.2 C412.4,769.2 413.6,770.6 415.7,771.7 C417.8,772.8 420.2,773.5 421.1,773.8 Q425.6,777.8 426.6,783.7 L426.6,789.7 L424.1,791.4 L424.1,813.9 L445.4,825.7 L447.3,825.2 L454.2,829.2 A88.8,51.3 60 0 1 443.4,906.5 L421.6,919.1 A88.8,51.3 60 0 1 319.5,778.7 Z" fill="#fff" stroke="#000" stroke-width="1.9" />
<path d="M433.5,840.6 L454.2,829.2" fill="none" stroke="#000" stroke-width="1.68" />
<path d="M406.3,823.3 L433.5,840.6" fill="none" stroke="#000" stroke-width="1.68" />
<path d="M407.3,821.5 L424.1,813.4" fill="none" stroke="#000" stroke-width="1.54" />
<path d="M405.8,823.3 L423.1,814.6" fill="none" stroke="#000" stroke-width="1.1199999999999999" />
<ellipse cx="426.4" cy="826.0" rx="6.1" ry="3.5" fill="#fff" stroke="#000" stroke-width="1.1"/>
<path d="M439.5,879.4 L459.8,868.1" fill="none" stroke="#000" stroke-width="1.68" />
<path d="M433.5,840.6 A88.8,51.3 60 0 1 421.6,919.1" fill="none" stroke="#000" stroke-width="1.3" />
<path d="M429.3,839.1 A81.0,46.8 60 1 1 326.7,784.6" fill="none" stroke="#000" stroke-width="1.2" />
<path d="M319.8,777.6 L358.4,798.3" fill="none" stroke="#000" stroke-width="1.68" />
<path d="M344.5,770.0 L352.9,772.8" fill="none" stroke="#000" stroke-width="1.54" />
<ellipse cx="349.0" cy="782.0" rx="5.8" ry="3.4" fill="#fff" stroke="#000" stroke-width="1.1"/>
<path d="M356.4,785.5 C356.0,786.1 355.5,788.4 353.9,789.2 C352.4,790.1 348.2,790.4 347.0,790.6" fill="none" stroke="#000" stroke-width="1.26" />
<path d="M326.7,784.6 L343.7,793.9" fill="none" stroke="#000" stroke-width="1.54" />
<path d="M352.9,770.9 L361.5,770.4 L361.5,763.9" fill="none" stroke="#000" stroke-width="1.54" />
<path d="M356.4,770.9 L356.4,785.5" fill="none" stroke="#000" stroke-width="2.0999999999999996" />
<path d="M361.8,764.2 L361.8,795.9" fill="none" stroke="#000" stroke-width="1.68" />
<path d="M356.4,761.8 C357.7,761.4 361.3,760.0 364.3,759.8 C367.3,759.5 370.9,759.7 374.2,760.3 C377.5,760.9 380.8,761.5 384.1,763.3 C387.4,765.0 391.2,768.1 394.0,770.7 C396.7,773.2 398.7,776.1 400.4,778.6 C402.0,781.0 403.3,784.3 403.8,785.5" fill="none" stroke="#000" stroke-width="2.2399999999999998" />
<path d="M361.8,763.9 C363.9,764.0 370.5,763.5 374.2,764.2 C377.9,764.9 380.8,766.2 384.1,768.2 C387.4,770.2 391.3,773.5 394.0,776.1 C396.6,778.7 398.4,781.1 399.9,783.5 C401.4,785.9 402.4,789.3 402.9,790.4" fill="none" stroke="#000" stroke-width="1.68" />
<path d="M363.3,766.7 C365.1,766.9 370.7,767.0 374.2,767.9 C377.6,768.8 381.1,770.2 384.1,772.1 C387.0,774.1 389.8,776.8 392.0,779.6 C394.1,782.3 396.1,787.0 396.9,788.5" fill="none" stroke="#000" stroke-width="1.68" />
<path d="M403.8,785.5 L404.8,793.4" fill="none" stroke="#000" stroke-width="1.68" />
<path d="M404.8,794.1 L424.1,783.2" fill="none" stroke="#000" stroke-width="1.54" />
<path d="M404.8,794.1 L404.8,799.5 L407.8,801.5 L407.8,821.3" fill="none" stroke="#000" stroke-width="1.68" />
<path d="M368.3,771.7 L368.3,791.4" fill="none" stroke="#000" stroke-width="1.26" />
<path d="M370.4,772.1 L370.4,791.9" fill="none" stroke="#000" stroke-width="1.26" />
<path d="M378.1,774.6 L378.1,787.0" fill="none" stroke="#000" stroke-width="1.26" />
<path d="M379.9,775.6 L379.9,788.5" fill="none" stroke="#000" stroke-width="1.26" />
<path d="M384.6,785.5 L384.6,795.9" fill="none" stroke="#000" stroke-width="1.26" />
<path d="M393.0,789.4 L393.0,797.8" fill="none" stroke="#000" stroke-width="1.26" />
<path d="M363.3,795.4 L369.7,791.7 L392.0,801.6" fill="none" stroke="#000" stroke-width="1.68" />
<path d="M389.0,803.3 L392.0,801.3 L396.9,806.2 L394.0,808.4" fill="none" stroke="#000" stroke-width="1.68" />
<path d="M387.0,810.2 L389.0,803.3" fill="none" stroke="#000" stroke-width="1.68" />
<path d="M395.9,806.5 L395.9,811.4" fill="none" stroke="#000" stroke-width="1.4" />
<path d="M387.9,811.1 A48.7,28.1 60 1 0 411.1,852.2" fill="none" stroke="#000" stroke-width="1.3" />
<ellipse cx="377.8" cy="843.3" rx="41.0" ry="23.7" transform="rotate(60 377.8 843.3)" fill="#fff" stroke="#000" stroke-width="1.8" />
<clipPath id="capb1"><ellipse cx="377.8" cy="843.3" rx="41.0" ry="23.7" transform="rotate(60 377.8 843.3)"/></clipPath>
<g clip-path="url(#capb1)">
<ellipse cx="386.5" cy="838.3" rx="41.0" ry="23.7" transform="rotate(60 386.5 838.3)" fill="none" stroke="#000" stroke-width="1.1" />
<ellipse cx="391.7" cy="835.3" rx="41.0" ry="23.7" transform="rotate(60 391.7 835.3)" fill="none" stroke="#000" stroke-width="1.1" />
<ellipse cx="399.1" cy="831.0" rx="41.0" ry="23.7" transform="rotate(60 399.1 831.0)" fill="none" stroke="#000" stroke-width="1.9" />
<ellipse cx="401.6" cy="829.5" rx="41.0" ry="23.7" transform="rotate(60 401.6 829.5)" fill="none" stroke="#000" stroke-width="1.0" />
<line x1="349.5" y1="826.3" x2="366.9" y2="817.1" stroke="#000" stroke-width="1.2" />
</g>
<path d="M395.9,811.4 C396.2,812.5 396.4,816.0 397.4,817.8 C398.4,819.6 400.4,821.4 401.9,822.3 C403.3,823.2 405.6,823.1 406.3,823.3" fill="none" stroke="#000" stroke-width="1.68" />
<path d="M327.1,782.5 C326.7,784.1 325.4,789.4 324.7,792.2 C324.1,795.1 323.2,797.7 323.1,799.8 C323.1,802.0 324.2,804.3 324.5,805.1" fill="none" stroke="#000" stroke-width="1.54" />
<path d="M324.5,805.1 L342.3,814.5" fill="none" stroke="#000" stroke-width="1.68" />
<path d="M325.3,810.0 L342.5,819.1" fill="none" stroke="#000" stroke-width="1.4" />
<path d="M322.7,810.0 L323.6,816.3 L342.7,825.6" fill="none" stroke="#000" stroke-width="1.68" />
<path d="M315.3,808.3 L320.5,809.6" fill="none" stroke="#000" stroke-width="1.4" />
<path d="M328.9,787.8 C328.9,789.7 328.4,796.6 328.9,799.4 C329.4,802.1 330.8,803.5 331.8,804.5 C332.8,805.6 334.4,805.6 334.9,805.8" fill="none" stroke="#000" stroke-width="1.54" />
<path d="M336.5,791.4 C336.5,793.7 336.2,802.2 336.5,805.6 C336.8,809.0 337.2,810.2 338.2,811.6 C339.3,813.1 342.0,813.7 342.7,814.1" fill="none" stroke="#000" stroke-width="1.54" />
<path d="M337.4,791.8 C338.4,792.2 341.8,793.2 343.6,794.2 C345.4,795.2 347.0,796.5 348.0,797.8 C349.0,799.0 349.4,800.9 349.6,801.6" fill="none" stroke="#000" stroke-width="1.54" />
<path d="M326.2,819.4 C326.7,821.2 328.0,827.3 328.9,830.5 C329.8,833.7 330.9,836.7 331.8,838.5 C332.7,840.3 333.6,841.1 334.3,841.4 C335.1,841.6 336.1,840.5 336.5,840.3" fill="none" stroke="#000" stroke-width="1.54" />
<path d="M336.9,825.2 L336.5,840.3" fill="none" stroke="#000" stroke-width="1.54" />
<path d="M334.7,843.1 L335.6,862.0" fill="none" stroke="#000" stroke-width="1.4" />
<path d="M323.6,817.2 C323.9,819.4 324.7,825.6 325.8,830.5 C326.9,835.4 328.8,841.8 330.2,846.5 C331.7,851.3 333.9,856.9 334.7,859.0" fill="none" stroke="#000" stroke-width="1.4" />
<path d="M351.0,858.7 L351.0,876.5" fill="none" stroke="#000" stroke-width="1.4" />
<path d="M341.6,873.5 C342.4,873.7 344.9,874.5 346.5,875.0 C348.1,875.5 348.7,874.7 351.0,876.5 C353.3,878.2 356.6,881.6 360.4,885.4 C364.1,889.1 371.1,896.9 373.2,899.2" fill="none" stroke="#000" stroke-width="1.4" />
<path d="M373.2,881.4 L373.2,903.6" fill="none" stroke="#000" stroke-width="1.68" />
<path d="M393.0,888.3 L393.0,912.0" fill="none" stroke="#000" stroke-width="1.68" />
<path d="M393.0,888.3 C394.1,887.8 397.4,886.2 399.9,885.4 C402.4,884.5 405.7,883.4 407.8,883.4 C409.9,883.4 411.6,884.0 412.7,885.4 C413.9,886.7 414.2,890.3 414.5,891.3" fill="none" stroke="#000" stroke-width="1.54" />
<path d="M414.5,891.3 L414.5,913.0" fill="none" stroke="#000" stroke-width="1.54" />
<path d="M373.2,903.6 L380.1,911.8 L412.2,915.2 L425.0,911.8" fill="none" stroke="#000" stroke-width="1.54" />
<path d="M380.1,911.8 L393.0,909.1" fill="none" stroke="#000" stroke-width="1.26" />
<ellipse cx="363.3" cy="877.4" rx="5.2" ry="10.5" transform="rotate(-32 363.3 877.4)" fill="none" stroke="#000" stroke-width="1.2"/>
<ellipse cx="365.5" cy="876.8" rx="3.6" ry="8.5" transform="rotate(-32 363.3 877.4)" fill="none" stroke="#000" stroke-width="1.0"/>
<ellipse cx="402.9" cy="901.4" rx="4.6" ry="8.2" transform="rotate(-28 402.9 901.4)" fill="none" stroke="#000" stroke-width="1.2"/>
<ellipse cx="404.5" cy="900.9" rx="2.8" ry="6.6" transform="rotate(-28 402.9 901.4)" fill="none" stroke="#000" stroke-width="0.9"/>
<path d="M408.4,835.9 C408.6,835.5 408.6,833.9 409.4,833.5 C410.1,833.0 410.1,832.8 412.8,833.5 C415.6,834.1 423.3,836.4 425.7,837.4 C428.1,838.4 426.9,839.1 427.2,839.4" fill="none" stroke="#000" stroke-width="1.54" />
<path d="M412.8,834.0 L412.8,862.6" fill="none" stroke="#000" stroke-width="1.54" />
<path d="M414.3,835.9 C414.4,838.2 414.1,846.3 414.8,849.8 C415.6,853.2 417.1,855.1 418.8,856.7 C420.4,858.3 422.6,858.8 424.7,859.2 C426.9,859.5 430.5,858.7 431.6,858.7" fill="none" stroke="#000" stroke-width="1.54" />
<path d="M412.8,854.7 L433.1,866.6" fill="none" stroke="#000" stroke-width="1.54" />
<path d="M412.8,862.6 L433.6,873.5" fill="none" stroke="#000" stroke-width="1.54" />
<path d="M412.8,869.5 L434.6,879.4" fill="none" stroke="#000" stroke-width="1.54" />
<path d="M400.0,885.4 C401.0,884.9 404.1,882.6 405.9,882.4 C407.7,882.1 409.6,882.7 410.9,883.9 C412.2,885.0 413.3,886.8 413.8,889.3 C414.4,891.9 414.4,895.1 414.3,899.2 C414.2,903.3 413.5,911.5 413.3,914.0" fill="none" stroke="#000" stroke-width="1.54" />
<path d="M413.3,914.0 C414.4,913.7 417.7,913.5 419.8,912.0 C421.8,910.6 423.9,908.1 425.7,905.1 C427.5,902.2 429.4,898.2 430.6,894.2 C431.9,890.3 432.7,883.5 433.1,881.4" fill="none" stroke="#000" stroke-width="1.4" />
<path d="M400.0,914.0 L413.3,914.0" fill="none" stroke="#000" stroke-width="1.26" />
<path d="M599.5,618.7 L621.9,606.2 Q623.1,608.5 626.5,610.5 L632.9,611.7 L632.9,603.0 L656.7,589.4 C659.5,591.1 668.6,596.6 674.0,599.6 C679.3,602.6 685.2,605.2 688.8,607.2 C692.4,609.2 693.6,610.6 695.7,611.7 C697.8,612.8 700.2,613.5 701.1,613.8 Q705.6,617.8 706.6,623.7 L706.6,629.7 L704.1,631.4 L704.1,653.9 L725.4,665.7 L727.3,665.2 L734.2,669.2 A88.8,51.3 60 0 1 723.4,746.5 L701.6,759.1 A88.8,51.3 60 0 1 599.5,618.7 Z" fill="#fff" stroke="#000" stroke-width="1.9" />
<path d="M713.5,680.6 L734.2,669.2" fill="none" stroke="#000" stroke-width="1.68" />
<path d="M686.3,663.3 L713.5,680.6" fill="none" stroke="#000" stroke-width="1.68" />
<path d="M687.3,661.5 L704.1,653.4" fill="none" stroke="#000" stroke-width="1.54" />
<path d="M685.8,663.3 L703.1,654.6" fill="none" stroke="#000" stroke-width="1.1199999999999999" />
<ellipse cx="706.4" cy="666.0" rx="6.1" ry="3.5" fill="#fff" stroke="#000" stroke-width="1.1"/>
<path d="M719.5,719.4 L739.8,708.1" fill="none" stroke="#000" stroke-width="1.68" />
<path d="M713.5,680.6 A88.8,51.3 60 0 1 701.6,759.1" fill="none" stroke="#000" stroke-width="1.3" />
<path d="M709.3,679.1 A81.0,46.8 60 1 1 606.7,624.6" fill="none" stroke="#000" stroke-width="1.2" />
<path d="M599.8,617.6 L638.4,638.3" fill="none" stroke="#000" stroke-width="1.68" />
<path d="M624.5,610.0 L632.9,612.8" fill="none" stroke="#000" stroke-width="1.54" />
<ellipse cx="629.0" cy="622.0" rx="5.8" ry="3.4" fill="#fff" stroke="#000" stroke-width="1.1"/>
<path d="M636.4,625.5 C636.0,626.1 635.5,628.4 633.9,629.2 C632.4,630.1 628.2,630.4 627.0,630.6" fill="none" stroke="#000" stroke-width="1.26" />
<path d="M606.7,624.6 L623.7,633.9" fill="none" stroke="#000" stroke-width="1.54" />
<path d="M632.9,610.9 L641.5,610.4 L641.5,603.9" fill="none" stroke="#000" stroke-width="1.54" />
<path d="M636.4,610.9 L636.4,625.5" fill="none" stroke="#000" stroke-width="2.0999999999999996" />
<path d="M641.8,604.2 L641.8,635.9" fill="none" stroke="#000" stroke-width="1.68" />
<path d="M636.4,601.8 C637.7,601.4 641.3,600.0 644.3,599.8 C647.3,599.5 650.9,599.7 654.2,600.3 C657.5,600.9 660.8,601.5 664.1,603.3 C667.4,605.0 671.2,608.1 674.0,610.7 C676.7,613.2 678.7,616.1 680.4,618.6 C682.0,621.0 683.3,624.3 683.8,625.5" fill="none" stroke="#000" stroke-width="2.2399999999999998" />
<path d="M641.8,603.9 C643.9,604.0 650.5,603.5 654.2,604.2 C657.9,604.9 660.8,606.2 664.1,608.2 C667.4,610.2 671.3,613.5 674.0,616.1 C676.6,618.7 678.4,621.1 679.9,623.5 C681.4,625.9 682.4,629.3 682.9,630.4" fill="none" stroke="#000" stroke-width="1.68" />
<path d="M643.3,606.7 C645.1,606.9 650.7,607.0 654.2,607.9 C657.6,608.8 661.1,610.2 664.1,612.1 C667.0,614.1 669.8,616.8 672.0,619.6 C674.1,622.3 676.1,627.0 676.9,628.5" fill="none" stroke="#000" stroke-width="1.68" />
<path d="M683.8,625.5 L684.8,633.4" fill="none" stroke="#000" stroke-width="1.68" />
<path d="M684.8,634.1 L704.1,623.2" fill="none" stroke="#000" stroke-width="1.54" />
<path d="M684.8,634.1 L684.8,639.5 L687.8,641.5 L687.8,661.3" fill="none" stroke="#000" stroke-width="1.68" />
<path d="M648.3,611.7 L648.3,631.4" fill="none" stroke="#000" stroke-width="1.26" />
<path d="M650.4,612.1 L650.4,631.9" fill="none" stroke="#000" stroke-width="1.26" />
<path d="M658.1,614.6 L658.1,627.0" fill="none" stroke="#000" stroke-width="1.26" />
<path d="M659.9,615.6 L659.9,628.5" fill="none" stroke="#000" stroke-width="1.26" />
<path d="M664.6,625.5 L664.6,635.9" fill="none" stroke="#000" stroke-width="1.26" />
<path d="M673.0,629.4 L673.0,637.8" fill="none" stroke="#000" stroke-width="1.26" />
<path d="M643.3,635.4 L649.7,631.7 L672.0,641.6" fill="none" stroke="#000" stroke-width="1.68" />
<path d="M669.0,643.3 L672.0,641.3 L676.9,646.2 L674.0,648.4" fill="none" stroke="#000" stroke-width="1.68" />
<path d="M667.0,650.2 L669.0,643.3" fill="none" stroke="#000" stroke-width="1.68" />
<path d="M675.9,646.5 L675.9,651.4" fill="none" stroke="#000" stroke-width="1.4" />
<path d="M667.9,651.1 A48.7,28.1 60 1 0 691.1,692.2" fill="none" stroke="#000" stroke-width="1.3" />
<ellipse cx="657.8" cy="683.3" rx="41.0" ry="23.7" transform="rotate(60 657.8 683.3)" fill="#fff" stroke="#000" stroke-width="1.8" />
<clipPath id="capb2"><ellipse cx="657.8" cy="683.3" rx="41.0" ry="23.7" transform="rotate(60 657.8 683.3)"/></clipPath>
<g clip-path="url(#capb2)">
<ellipse cx="666.5" cy="678.3" rx="41.0" ry="23.7" transform="rotate(60 666.5 678.3)" fill="none" stroke="#000" stroke-width="1.1" />
<ellipse cx="671.7" cy="675.3" rx="41.0" ry="23.7" transform="rotate(60 671.7 675.3)" fill="none" stroke="#000" stroke-width="1.1" />
<ellipse cx="679.1" cy="671.0" rx="41.0" ry="23.7" transform="rotate(60 679.1 671.0)" fill="none" stroke="#000" stroke-width="1.9" />
<ellipse cx="681.6" cy="669.5" rx="41.0" ry="23.7" transform="rotate(60 681.6 669.5)" fill="none" stroke="#000" stroke-width="1.0" />
<line x1="629.5" y1="666.3" x2="646.9" y2="657.1" stroke="#000" stroke-width="1.2" />
</g>
<path d="M675.9,651.4 C676.2,652.5 676.4,656.0 677.4,657.8 C678.4,659.6 680.4,661.4 681.9,662.3 C683.3,663.2 685.6,663.1 686.3,663.3" fill="none" stroke="#000" stroke-width="1.68" />
<path d="M607.1,622.5 C606.7,624.1 605.4,629.4 604.7,632.2 C604.1,635.1 603.2,637.7 603.1,639.8 C603.1,642.0 604.2,644.3 604.5,645.1" fill="none" stroke="#000" stroke-width="1.54" />
<path d="M604.5,645.1 L622.3,654.5" fill="none" stroke="#000" stroke-width="1.68" />
<path d="M605.3,650.0 L622.5,659.1" fill="none" stroke="#000" stroke-width="1.4" />
<path d="M602.7,650.0 L603.6,656.3 L622.7,665.6" fill="none" stroke="#000" stroke-width="1.68" />
<path d="M595.3,648.3 L600.5,649.6" fill="none" stroke="#000" stroke-width="1.4" />
<path d="M608.9,627.8 C608.9,629.7 608.4,636.6 608.9,639.4 C609.4,642.1 610.8,643.5 611.8,644.5 C612.8,645.6 614.4,645.6 614.9,645.8" fill="none" stroke="#000" stroke-width="1.54" />
<path d="M616.5,631.4 C616.5,633.7 616.2,642.2 616.5,645.6 C616.8,649.0 617.2,650.2 618.2,651.6 C619.3,653.1 622.0,653.7 622.7,654.1" fill="none" stroke="#000" stroke-width="1.54" />
<path d="M617.4,631.8 C618.4,632.2 621.8,633.2 623.6,634.2 C625.4,635.2 627.0,636.5 628.0,637.8 C629.0,639.0 629.4,640.9 629.6,641.6" fill="none" stroke="#000" stroke-width="1.54" />
<path d="M606.2,659.4 C606.7,661.2 608.0,667.3 608.9,670.5 C609.8,673.7 610.9,676.7 611.8,678.5 C612.7,680.3 613.6,681.1 614.3,681.4 C615.1,681.6 616.1,680.5 616.5,680.3" fill="none" stroke="#000" stroke-width="1.54" />
<path d="M616.9,665.2 L616.5,680.3" fill="none" stroke="#000" stroke-width="1.54" />
<path d="M614.7,683.1 L615.6,702.0" fill="none" stroke="#000" stroke-width="1.4" />
<path d="M603.6,657.2 C603.9,659.4 604.7,665.6 605.8,670.5 C606.9,675.4 608.8,681.8 610.2,686.5 C611.7,691.3 613.9,696.9 614.7,699.0" fill="none" stroke="#000" stroke-width="1.4" />
<path d="M631.0,698.7 L631.0,716.5" fill="none" stroke="#000" stroke-width="1.4" />
<path d="M621.6,713.5 C622.4,713.7 624.9,714.5 626.5,715.0 C628.1,715.5 628.7,714.7 631.0,716.5 C633.3,718.2 636.6,721.6 640.4,725.4 C644.1,729.1 651.1,736.9 653.2,739.2" fill="none" stroke="#000" stroke-width="1.4" />
<path d="M653.2,721.4 L653.2,743.6" fill="none" stroke="#000" stroke-width="1.68" />
<path d="M673.0,728.3 L673.0,752.0" fill="none" stroke="#000" stroke-width="1.68" />
<path d="M673.0,728.3 C674.1,727.8 677.4,726.2 679.9,725.4 C682.4,724.5 685.7,723.4 687.8,723.4 C689.9,723.4 691.6,724.0 692.7,725.4 C693.9,726.7 694.2,730.3 694.5,731.3" fill="none" stroke="#000" stroke-width="1.54" />
<path d="M694.5,731.3 L694.5,753.0" fill="none" stroke="#000" stroke-width="1.54" />
<path d="M653.2,743.6 L660.1,751.8 L692.2,755.2 L705.0,751.8" fill="none" stroke="#000" stroke-width="1.54" />
<path d="M660.1,751.8 L673.0,749.1" fill="none" stroke="#000" stroke-width="1.26" />
<ellipse cx="643.3" cy="717.4" rx="5.2" ry="10.5" transform="rotate(-32 643.3 717.4)" fill="none" stroke="#000" stroke-width="1.2"/>
<ellipse cx="645.5" cy="716.8" rx="3.6" ry="8.5" transform="rotate(-32 643.3 717.4)" fill="none" stroke="#000" stroke-width="1.0"/>
<ellipse cx="682.9" cy="741.4" rx="4.6" ry="8.2" transform="rotate(-28 682.9 741.4)" fill="none" stroke="#000" stroke-width="1.2"/>
<ellipse cx="684.5" cy="740.9" rx="2.8" ry="6.6" transform="rotate(-28 682.9 741.4)" fill="none" stroke="#000" stroke-width="0.9"/>
<path d="M688.4,675.9 C688.6,675.5 688.6,673.9 689.4,673.5 C690.1,673.0 690.1,672.8 692.8,673.5 C695.6,674.1 703.3,676.4 705.7,677.4 C708.1,678.4 706.9,679.1 707.2,679.4" fill="none" stroke="#000" stroke-width="1.54" />
<path d="M692.8,674.0 L692.8,702.6" fill="none" stroke="#000" stroke-width="1.54" />
<path d="M694.3,675.9 C694.4,678.2 694.1,686.3 694.8,689.8 C695.6,693.2 697.1,695.1 698.8,696.7 C700.4,698.3 702.6,698.8 704.7,699.2 C706.9,699.5 710.5,698.7 711.6,698.7" fill="none" stroke="#000" stroke-width="1.54" />
<path d="M692.8,694.7 L713.1,706.6" fill="none" stroke="#000" stroke-width="1.54" />
<path d="M692.8,702.6 L713.6,713.5" fill="none" stroke="#000" stroke-width="1.54" />
<path d="M692.8,709.5 L714.6,719.4" fill="none" stroke="#000" stroke-width="1.54" />
<path d="M680.0,725.4 C681.0,724.9 684.1,722.6 685.9,722.4 C687.7,722.1 689.6,722.7 690.9,723.9 C692.2,725.0 693.3,726.8 693.8,729.3 C694.4,731.9 694.4,735.1 694.3,739.2 C694.2,743.3 693.5,751.5 693.3,754.0" fill="none" stroke="#000" stroke-width="1.54" />
<path d="M693.3,754.0 C694.4,753.7 697.7,753.5 699.8,752.0 C701.8,750.6 703.9,748.1 705.7,745.1 C707.5,742.2 709.4,738.2 710.6,734.2 C711.9,730.3 712.7,723.5 713.1,721.4" fill="none" stroke="#000" stroke-width="1.4" />
<path d="M680.0,754.0 L693.3,754.0" fill="none" stroke="#000" stroke-width="1.26" />
<path d="M898.3,433.6 L921.1,420.3 L929.5,424.7 L930.0,423.7 L933.4,418.8 Q938.4,411.9 946.3,409.7 C949.2,410.4 957.8,411.0 964.1,413.8 C970.3,416.7 978.4,422.6 983.8,426.7 C989.3,430.8 993.3,436.3 996.7,438.5 C1000.1,440.8 1002.9,440.0 1004.1,440.3 L1004.1,465.5 L1008.1,470.9 L1035.2,487.7 A94.0,54.3 60 0 1 1025.6,574.3 L1002.9,587.4 A94.0,54.3 60 0 1 898.3,433.6 Z" fill="#fff" stroke="#000" stroke-width="2.0" />
<path d="M1013.5,499.6 L1035.2,488.2" fill="none" stroke="#000" stroke-width="1.8199999999999998" />
<path d="M984.8,483.3 L1013.5,499.6" fill="none" stroke="#000" stroke-width="1.8199999999999998" />
<path d="M984.8,483.3 L1005.1,470.9" fill="none" stroke="#000" stroke-width="1.68" />
<ellipse cx="1006.8" cy="483.3" rx="6.3" ry="3.5" fill="#fff" stroke="#000" stroke-width="1.1"/>
<path d="M1021.4,542.4 L1043.1,531.1" fill="none" stroke="#000" stroke-width="1.8199999999999998" />
<path d="M1013.5,499.6 A94.0,54.3 60 0 1 1002.9,587.4" fill="none" stroke="#000" stroke-width="1.4" />
<path d="M1009.0,498.6 A88.4,51.0 60 1 1 901.3,439.0" fill="none" stroke="#000" stroke-width="1.3" />
<path d="M898.3,433.6 L929.0,449.9" fill="none" stroke="#000" stroke-width="1.8199999999999998" />
<path d="M929.0,434.1 C928.2,434.2 925.2,434.1 924.0,434.8 C922.9,435.5 922.0,437.0 922.1,438.1 C922.1,439.1 923.4,440.4 924.5,441.0 C925.7,441.6 928.2,441.4 929.0,441.5" fill="none" stroke="#000" stroke-width="1.54" />
<path d="M930.0,424.2 L930.0,448.9 L927.5,450.2" fill="none" stroke="#000" stroke-width="2.52" />
<path d="M933.4,418.8 L933.4,429.7" fill="none" stroke="#000" stroke-width="1.9599999999999997" />
<path d="M933.4,418.8 C936.9,419.5 947.4,419.9 954.2,422.9 C960.9,425.9 968.4,432.6 974.0,436.8 C979.6,440.9 985.5,446.1 987.8,447.9" fill="none" stroke="#000" stroke-width="1.9599999999999997" />
<path d="M932.0,423.7 L982.9,453.9" fill="none" stroke="#000" stroke-width="1.68" />
<path d="M934.4,429.7 L979.9,456.3" fill="none" stroke="#000" stroke-width="1.68" />
<path d="M987.8,447.9 L982.9,453.9" fill="none" stroke="#000" stroke-width="1.68" />
<path d="M982.8,452.6 L1002.6,441.3" fill="none" stroke="#000" stroke-width="1.68" />
<path d="M982.8,452.6 L982.8,476.3 L984.8,483.3" fill="none" stroke="#000" stroke-width="1.9599999999999997" />
<path d="M934.2,429.7 C934.2,432.5 933.6,442.9 933.9,446.5 C934.2,450.0 935.0,449.9 935.9,450.9 C936.8,451.9 939.0,452.1 939.6,452.4" fill="none" stroke="#000" stroke-width="2.2399999999999998" />
<path d="M941.3,433.6 C941.4,435.1 941.0,440.2 941.5,442.5 C942.0,444.8 942.9,446.2 944.3,447.2 C945.8,448.3 948.1,448.4 950.2,448.6 C952.3,448.8 955.6,449.2 957.0,448.4 C958.4,447.7 958.5,445.1 958.6,444.0 C958.8,442.9 958.1,442.3 957.9,442.0" fill="none" stroke="#000" stroke-width="1.68" />
<path d="M966.2,448.6 C966.4,449.8 966.0,452.7 967.2,455.4 C968.5,458.0 972.2,461.2 974.0,464.2 C975.7,467.3 977.3,472.1 977.9,473.6" fill="none" stroke="#000" stroke-width="1.68" />
<path d="M977.9,473.6 L978.6,458.3 L966.2,448.6" fill="none" stroke="#000" stroke-width="1.68" />
<ellipse cx="955.9" cy="503.7" rx="53.5" ry="30.9" transform="rotate(60 955.9 503.7)" fill="none" stroke="#000" stroke-width="1.7" />
<ellipse cx="955.9" cy="503.7" rx="43.3" ry="25.0" transform="rotate(60 955.9 503.7)" fill="#fff" stroke="#000" stroke-width="1.9" />
<clipPath id="cap10b"><ellipse cx="955.9" cy="503.7" rx="43.3" ry="25.0" transform="rotate(60 955.9 503.7)"/></clipPath>
<g clip-path="url(#cap10b)">
<ellipse cx="965.9" cy="497.9" rx="43.3" ry="25.0" transform="rotate(60 965.9 497.9)" fill="none" stroke="#000" stroke-width="1.1" />
<ellipse cx="968.7" cy="496.3" rx="43.3" ry="25.0" transform="rotate(60 968.7 496.3)" fill="none" stroke="#000" stroke-width="1.1" />
<ellipse cx="977.6" cy="491.2" rx="43.3" ry="25.0" transform="rotate(60 977.6 491.2)" fill="none" stroke="#000" stroke-width="1.0" />
<ellipse cx="979.2" cy="490.2" rx="43.3" ry="25.0" transform="rotate(60 979.2 490.2)" fill="none" stroke="#000" stroke-width="1.9" />
<path d="M926.0,487.5 L945.3,476.6" fill="none" stroke="#000" stroke-width="1.54" />
</g>
<path d="M899.8,441.0 L924.0,453.9" fill="none" stroke="#000" stroke-width="1.68" />
<path d="M899.8,441.0 C899.3,442.4 897.6,446.5 896.9,449.4 C896.1,452.3 895.4,456.0 895.4,458.3 C895.4,460.6 896.6,462.4 896.9,463.3" fill="none" stroke="#000" stroke-width="1.68" />
<path d="M896.9,463.3 L918.1,475.1" fill="none" stroke="#000" stroke-width="1.68" />
<path d="M924.0,453.9 C924.3,454.5 925.8,456.1 925.5,457.8 C925.3,459.6 923.6,462.0 922.6,464.2 C921.5,466.5 919.7,470.0 919.1,471.2" fill="none" stroke="#000" stroke-width="1.54" />
<path d="M909.2,446.5 L909.2,468.2" fill="none" stroke="#000" stroke-width="1.54" />
<path d="M902.3,443.5 C901.9,444.8 900.4,448.8 899.8,451.4 C899.2,454.0 897.4,456.5 898.8,459.3 C900.3,462.1 907.1,466.7 908.7,468.2" fill="none" stroke="#000" stroke-width="1.4" />
<path d="M890.9,469.2 L918.6,484.0" fill="none" stroke="#000" stroke-width="1.8199999999999998" />
<path d="M894.4,476.1 L917.6,487.5" fill="none" stroke="#000" stroke-width="1.68" />
<path d="M894.4,476.1 C894.6,478.3 895.0,484.5 895.9,489.0 C896.8,493.4 899.2,500.5 899.8,502.8" fill="none" stroke="#000" stroke-width="1.54" />
<path d="M909.7,485.0 L909.7,502.8" fill="none" stroke="#000" stroke-width="1.54" />
<path d="M897.8,495.0 C898.5,497.0 900.4,504.4 901.8,506.9 C903.2,509.3 905.0,509.3 906.3,509.8 C907.5,510.3 908.6,512.0 909.2,509.8 C909.8,507.7 909.6,499.1 909.7,497.0" fill="none" stroke="#000" stroke-width="1.54" />
<path d="M934.4,532.6 C933.1,532.9 928.6,533.8 926.5,534.5 C924.5,535.3 922.7,535.9 922.1,537.0 C921.4,538.2 922.5,540.7 922.6,541.5" fill="none" stroke="#000" stroke-width="1.54" />
<path d="M922.6,541.5 L943.3,565.2 L947.3,564.2 L947.3,543.4" fill="none" stroke="#000" stroke-width="1.54" />
<path d="M930.5,534.5 L947.3,554.3" fill="none" stroke="#000" stroke-width="1.54" />
<path d="M944.3,566.2 C945.1,566.9 947.6,570.1 949.2,570.3 C950.9,570.6 952.4,567.5 954.2,567.6 C956.0,567.8 958.5,569.4 960.1,571.1 C961.8,572.8 962.1,576.2 964.1,578.0 C966.1,579.9 970.7,581.5 972.0,582.2" fill="none" stroke="#000" stroke-width="1.26" />
<path d="M968.5,554.3 L968.5,573.1" fill="none" stroke="#000" stroke-width="1.8199999999999998" />
<path d="M972.5,555.3 L972.5,570.1" fill="none" stroke="#000" stroke-width="1.54" />
<path d="M972.5,555.3 C972.7,557.4 973.2,565.2 974.0,568.1 C974.7,571.1 974.5,572.1 976.9,572.9 C979.4,573.7 986.8,573.1 988.8,573.1" fill="none" stroke="#000" stroke-width="1.54" />
<path d="M978.9,554.3 L993.7,580.0" fill="none" stroke="#000" stroke-width="1.54" />
<path d="M987.8,551.3 L1005.0,559.2" fill="none" stroke="#000" stroke-width="1.54" />
<circle cx="918.6" cy="524.7" r="3" fill="none" stroke="#000" stroke-width="0.9" stroke-dasharray="2 1.5"/>
<path d="M987.3,495.0 C987.8,497.1 989.2,503.6 990.3,507.8 C991.3,512.1 993.1,518.6 993.7,520.7" fill="none" stroke="#000" stroke-width="1.68" />
<path d="M993.7,520.7 L1016.5,533.5" fill="none" stroke="#000" stroke-width="1.68" />
<path d="M989.8,496.0 C990.3,498.0 991.7,504.1 992.7,507.8 C993.8,511.6 995.4,516.9 995.9,518.7" fill="none" stroke="#000" stroke-width="1.4" />
<path d="M995.9,518.7 L1016.0,530.6" fill="none" stroke="#000" stroke-width="1.4" />
<path d="M993.7,495.0 L1011.0,502.4 L1014.5,500.9" fill="none" stroke="#000" stroke-width="1.68" />
<path d="M1007.1,503.9 L1007.1,525.6" fill="none" stroke="#000" stroke-width="1.54" />
<path d="M1011.0,502.9 C1011.6,504.6 1013.5,509.0 1014.5,512.8 C1015.5,516.6 1016.5,523.5 1017.0,525.6" fill="none" stroke="#000" stroke-width="1.54" />
<path d="M987.8,525.6 L1020.4,543.4" fill="none" stroke="#000" stroke-width="2.2399999999999998" />
<path d="M994.7,533.5 L1016.5,545.4" fill="none" stroke="#000" stroke-width="1.68" />
<path d="M994.7,533.5 C994.3,534.9 993.1,539.0 992.2,541.5 C991.4,543.9 990.2,547.2 989.8,548.4" fill="none" stroke="#000" stroke-width="1.54" />
<path d="M989.8,548.4 L1003.6,560.2 L1006.6,559.2 L1010.5,562.2 L1014.5,560.2" fill="none" stroke="#000" stroke-width="1.54" />
<path d="M1007.1,542.4 L1007.1,559.2" fill="none" stroke="#000" stroke-width="1.54" />
<path d="M973.0,555.3 C973.0,557.4 972.6,565.2 973.5,568.1 C974.3,571.1 975.0,572.3 977.9,573.1 C980.8,573.9 988.6,573.1 990.8,573.1" fill="none" stroke="#000" stroke-width="1.54" />
<path d="M979.9,555.3 C980.9,556.8 984.0,561.2 985.8,564.2 C987.6,567.2 989.3,570.1 990.8,573.1 C992.2,576.1 994.1,580.5 994.7,582.0" fill="none" stroke="#000" stroke-width="1.54" />
<line x1="242.5" y1="920.0" x2="286.6" y2="895.3" stroke="#555" stroke-width="0.9" stroke-dasharray="26 4 5 4"/>
<line x1="315.9" y1="877.8" x2="387.5" y2="837.7" stroke="#555" stroke-width="0.9" stroke-dasharray="26 4 5 4"/>
<line x1="430.0" y1="812.4" x2="546.6" y2="745.3" stroke="#555" stroke-width="0.9" stroke-dasharray="26 4 5 4"/>
<line x1="575.9" y1="727.8" x2="667.5" y2="677.7" stroke="#555" stroke-width="0.9" stroke-dasharray="26 4 5 4"/>
<line x1="710.0" y1="652.4" x2="839.3" y2="578.2" stroke="#555" stroke-width="0.9" stroke-dasharray="26 4 5 4"/>
<line x1="864.9" y1="562.8" x2="976.4" y2="498.6" stroke="#555" stroke-width="0.9" stroke-dasharray="26 4 5 4"/>
<line x1="1006.6" y1="416.5" x2="1006.6" y2="483.5" stroke="#555" stroke-width="0.9" stroke-dasharray="26 4 5 4"/>
<line x1="706.3" y1="606.0" x2="706.3" y2="666.0" stroke="#555" stroke-width="0.9" stroke-dasharray="26 4 5 4"/>
<line x1="426.0" y1="768.6" x2="426.0" y2="826.0" stroke="#555" stroke-width="0.9" stroke-dasharray="26 4 5 4"/>
<line x1="666.4" y1="765.0" x2="666.4" y2="803.0" stroke="#555" stroke-width="0.9" stroke-dasharray="26 4 5 4"/>
<line x1="385.8" y1="923.8" x2="385.8" y2="934.0" stroke="#555" stroke-width="0.9" stroke-dasharray="26 4 5 4"/>
<path d="M490.8,380.0 C496.4,379.5 509.3,377.5 524.1,377.1 C538.9,376.7 562.4,376.3 579.7,377.8 C597.0,379.3 612.5,382.4 627.9,386.3 C643.3,390.2 655.7,394.1 672.4,401.2 C689.1,408.3 711.3,420.1 728.0,429.0 C744.7,437.9 757.1,448.1 772.5,454.9 C787.9,461.7 802.4,466.3 820.6,469.7 C838.8,473.1 871.6,474.4 881.8,475.3 L881.8,485.3 C871.6,484.2 839.4,482.7 820.6,479.0 C801.8,475.3 784.8,470.2 768.8,463.1 C752.8,456.0 741.0,445.8 724.3,436.4 C707.6,427.0 685.4,414.4 668.7,406.7 C652.0,399.0 639.0,394.2 624.2,390.0 C609.4,385.8 596.4,383.0 579.7,381.5 C563.0,380.0 538.6,380.4 524.1,380.8 C509.6,381.2 497.9,383.2 492.6,383.7 Z" fill="#000" stroke="none"/>
<path d="M467.8,390.0 L487.0,375.2 L493.0,390.5 Z" fill="#000" stroke="#000" stroke-width="0.5" />
<path d="M395.5,437.1 C402.9,441.1 424.8,452.3 439.6,461.1 C454.4,469.9 469.4,478.9 484.3,489.8 C499.2,500.7 515.2,513.7 529.0,526.5 C542.8,539.3 555.3,552.7 567.3,566.4 C579.3,580.1 595.2,601.5 600.8,608.5 L587.1,616.5 C582.2,609.5 569.0,588.3 557.7,574.4 C546.4,560.5 532.7,546.2 519.4,532.9 C506.1,519.6 492.3,506.0 477.9,494.6 C463.5,483.2 447.4,473.2 433.2,464.3 C418.9,455.4 399.2,445.1 392.4,441.3 Z" fill="#000" stroke="none"/>
<path d="M372.6,429.8 L398.1,431.7 L390.1,447.7 Z" fill="#000" stroke="#000" stroke-width="0.5" />
<path d="M315.1,515.3 C318.3,520.1 328.2,532.9 334.3,544.1 C340.4,555.3 346.8,568.6 351.8,582.4 C356.9,596.2 361.1,611.6 364.6,627.0 C368.1,642.4 370.9,657.9 372.6,674.9 C374.4,691.9 374.7,720.2 375.1,729.2 L362.3,729.2 C362.1,720.2 362.3,691.4 361.4,674.9 C360.4,658.4 359.3,645.1 356.6,630.2 C353.9,615.3 349.9,599.3 345.4,585.5 C340.9,571.7 335.1,558.4 329.5,547.2 C323.9,536.0 314.8,523.3 311.9,518.5 Z" fill="#000" stroke="none"/>
<path d="M295.0,501.9 L318.3,511.5 L307.1,522.4 Z" fill="#000" stroke="#000" stroke-width="0.5" />
<text x="948.5" y="32">80</text>
<text x="995.5" y="41">50</text>
<text x="736.5" y="41.2">40</text>
<text x="619" y="98.8">60</text>
<text x="500.5" y="176.3">30</text>
<text x="1061.5" y="178">70</text>
<text x="1075" y="395">20</text>
<text x="1138" y="540.5">10</text>
<text x="1075" y="648">25</text>
<text x="770" y="681.5">120</text>
<text x="834" y="757.5">110</text>
<text x="773" y="822.5">130</text>
<text x="732" y="877.5">100</text>
<text x="448.5" y="991">100</text>
<text x="154" y="738">92</text>
<text x="95" y="804">90</text>
<text x="154" y="878">95</text>
<line x1="757.5" y1="45.5" x2="771.3" y2="68.0" stroke="#000" stroke-width="1.1" />
<line x1="638.3" y1="102.0" x2="659.5" y2="138.3" stroke="#000" stroke-width="1.1" />
<line x1="523.0" y1="180.0" x2="551.8" y2="223.8" stroke="#000" stroke-width="1.1" />
<line x1="902.0" y1="23.0" x2="941.0" y2="25.0" stroke="#000" stroke-width="1.1" />
<line x1="1002.5" y1="49.0" x2="985.0" y2="73.0" stroke="#000" stroke-width="1.1" />
<line x1="1046.0" y1="135.0" x2="1069.0" y2="160.0" stroke="#000" stroke-width="1.1" />
<line x1="1020.8" y1="371.3" x2="1070.0" y2="385.8" stroke="#000" stroke-width="1.1" />
<line x1="876.0" y1="594.6" x2="1069.0" y2="637.0" stroke="#000" stroke-width="1.1" />
<line x1="717.0" y1="600.0" x2="780.5" y2="661.0" stroke="#000" stroke-width="1.1" />
<line x1="587.0" y1="761.0" x2="766.0" y2="812.5" stroke="#000" stroke-width="1.1" />
<line x1="682.0" y1="864.3" x2="725.0" y2="870.0" stroke="#000" stroke-width="1.1" />
<line x1="400.0" y1="992.0" x2="445.0" y2="986.3" stroke="#000" stroke-width="1.1" />
<line x1="186.3" y1="732.8" x2="412.0" y2="738.2" stroke="#000" stroke-width="1.1" />
<line x1="184.5" y1="873.3" x2="244.3" y2="889.5" stroke="#000" stroke-width="1.1" />
<line x1="166.0" y1="765.5" x2="311.3" y2="789.3" stroke="#000" stroke-width="1.1" />
<line x1="166.3" y1="811.0" x2="313.8" y2="838.3" stroke="#000" stroke-width="1.1" />
<line x1="1045.8" y1="508.8" x2="1076.5" y2="501.8" stroke="#000" stroke-width="1.1" />
<line x1="1045.0" y1="555.5" x2="1076.5" y2="565.5" stroke="#000" stroke-width="1.1" />
<line x1="745.0" y1="698.0" x2="790.0" y2="707.5" stroke="#000" stroke-width="1.1" />
<line x1="732.5" y1="744.3" x2="789.3" y2="789.0" stroke="#000" stroke-width="1.1" />
<circle cx="166" cy="765.5" r="4.6" fill="#000"/>
<circle cx="166.3" cy="811" r="4.6" fill="#000"/>
<circle cx="1076.5" cy="501.8" r="4.6" fill="#000"/>
<circle cx="1076.5" cy="565.5" r="4.6" fill="#000"/>
<circle cx="790" cy="707.5" r="4.6" fill="#000"/>
<circle cx="789.3" cy="789" r="4.6" fill="#000"/>
<path d="M173.0,692.5 L142.5,710.5 L142.5,884.5 L170.0,900.0" fill="none" stroke="#000" stroke-width="1.1" />
<line x1="123.0" y1="796.8" x2="142.5" y2="796.8" stroke="#000" stroke-width="1.1" />
<path d="M1079.5,358.3 L1110.8,375.5 L1110.8,657.7 L1076.0,679.0" fill="none" stroke="#000" stroke-width="1.1" />
<line x1="1110.8" y1="533.3" x2="1133.8" y2="533.3" stroke="#000" stroke-width="1.1" />
<path d="M786.3,646.8 L812.0,661.3 L812.0,829.5 L783.8,845.0" fill="none" stroke="#000" stroke-width="1.1" />
<line x1="812.0" y1="750.5" x2="831.3" y2="750.5" stroke="#000" stroke-width="1.1" />
</svg>
</body></html>
